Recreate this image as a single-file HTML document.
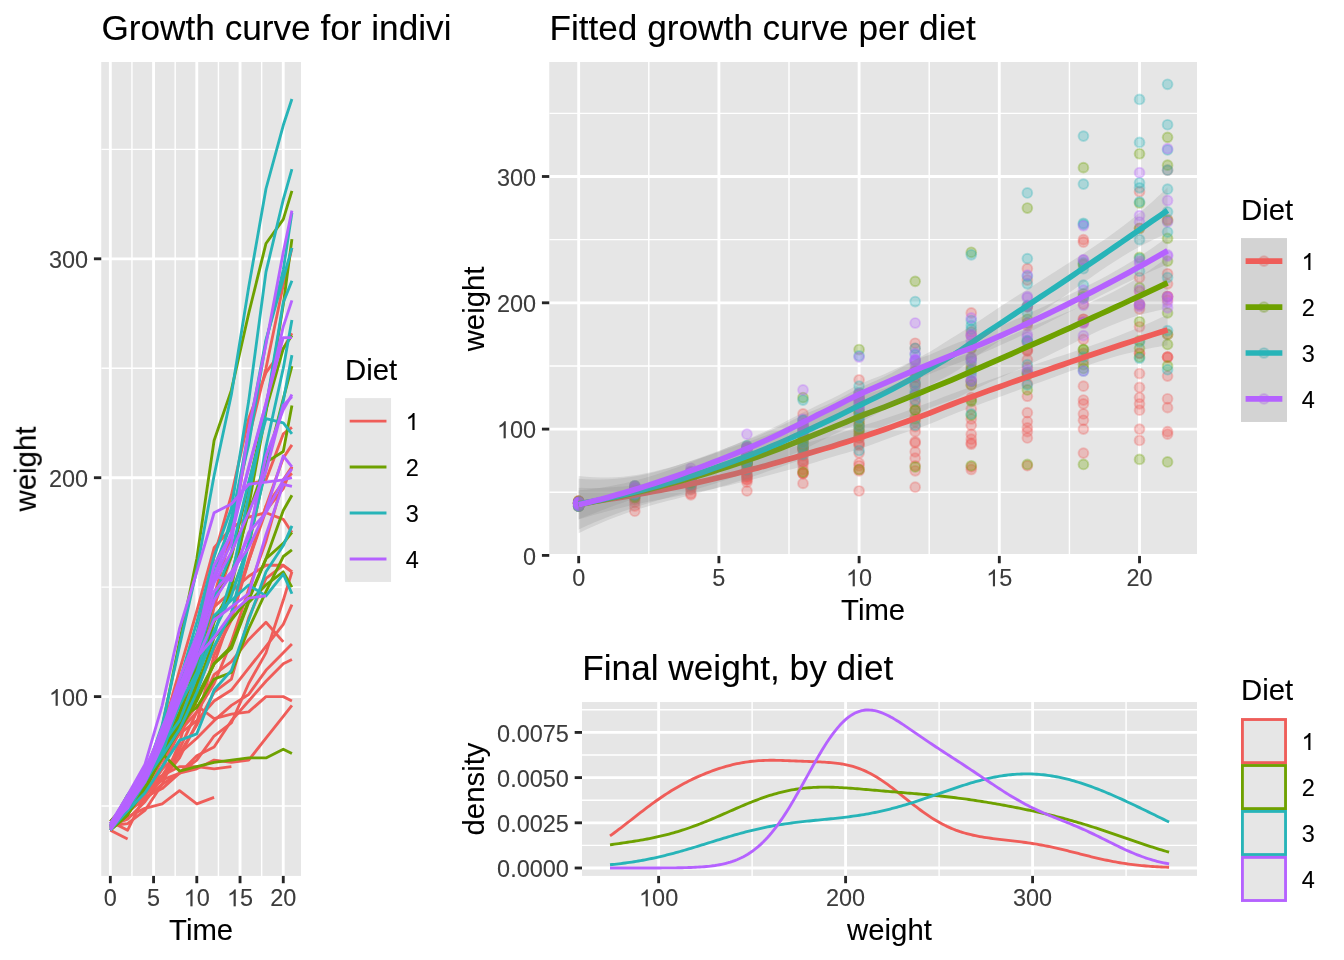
<!DOCTYPE html>
<html><head><meta charset="utf-8"><title>ChickWeight</title>
<style>html,body{margin:0;padding:0;background:#fff}svg{display:block}text{font-family:"Liberation Sans", sans-serif}</style>
</head><body>
<svg width="1344" height="960" viewBox="0 0 1344 960">
<defs><filter id="tx" x="0" y="0" width="1344" height="960" filterUnits="userSpaceOnUse" color-interpolation-filters="sRGB"><feComponentTransfer><feFuncA type="gamma" exponent="0.8"/></feComponentTransfer></filter></defs><g><rect width="1344" height="960" fill="#fff"/>
<clipPath id="c1"><rect x="101.25" y="62" width="199.75" height="813.9"/></clipPath>
<rect x="101.25" y="62" width="199.75" height="813.9" fill="#E6E6E6"/>
<g clip-path="url(#c1)" stroke="#fff" fill="none">
<path d="M101.25 806.07H301" stroke-width="1.42"/>
<path d="M101.25 587.16H301" stroke-width="1.42"/>
<path d="M101.25 368.25H301" stroke-width="1.42"/>
<path d="M101.25 149.34H301" stroke-width="1.42"/>
<path d="M131.95 62V875.9" stroke-width="1.42"/>
<path d="M175.18 62V875.9" stroke-width="1.42"/>
<path d="M218.42 62V875.9" stroke-width="1.42"/>
<path d="M261.66 62V875.9" stroke-width="1.42"/>
<path d="M101.25 696.61H301" stroke-width="2.85"/>
<path d="M101.25 477.71H301" stroke-width="2.85"/>
<path d="M101.25 258.8H301" stroke-width="2.85"/>
<path d="M110.33 62V875.9" stroke-width="2.85"/>
<path d="M153.57 62V875.9" stroke-width="2.85"/>
<path d="M196.8 62V875.9" stroke-width="2.85"/>
<path d="M240.04 62V875.9" stroke-width="2.85"/>
<path d="M283.27 62V875.9" stroke-width="2.85"/>
</g>
<g clip-path="url(#c1)" fill="none" stroke-width="2.85" stroke-linejoin="round">
<polyline points="110.33,823.58 127.62,803.88 144.92,786.37 162.21,775.42 179.51,749.15 196.8,711.94 214.1,683.48 231.39,641.89 248.68,589.35 265.98,541.19 283.27,479.9 291.92,466.76" stroke="#EF5D59"/>
<polyline points="110.33,827.96 127.62,808.26 144.92,788.56 162.21,757.91 179.51,731.64 196.8,690.05 214.1,648.45 231.39,613.43 248.68,560.89 265.98,506.16 283.27,458 291.92,444.87" stroke="#EF5D59"/>
<polyline points="110.33,821.39 127.62,830.15 144.92,795.12 162.21,768.85 179.51,731.64 196.8,698.8 214.1,663.78 231.39,613.43 248.68,558.7 265.98,506.16 283.27,482.08 291.92,473.33" stroke="#EF5D59"/>
<polyline points="110.33,823.58 127.62,808.26 144.92,792.93 162.21,768.85 179.51,753.53 196.8,725.07 214.1,692.24 231.39,679.1 248.68,617.81 265.98,578.4 283.27,565.27 291.92,571.84" stroke="#EF5D59"/>
<polyline points="110.33,825.77 127.62,823.58 144.92,810.45 162.21,784.18 179.51,742.59 196.8,683.48 214.1,606.86 231.39,556.51 248.68,484.27 265.98,479.9 283.27,433.92 291.92,427.36" stroke="#EF5D59"/>
<polyline points="110.33,825.77 127.62,808.26 144.92,786.37 162.21,753.53 179.51,703.18 196.8,644.08 214.1,606.86 231.39,591.54 248.68,576.21 265.98,565.27 283.27,565.27 291.92,571.84" stroke="#EF5D59"/>
<polyline points="110.33,825.77 127.62,808.26 144.92,790.74 162.21,760.1 179.51,720.69 196.8,670.35 214.1,595.92 231.39,534.62 248.68,438.3 265.98,368.25 283.27,285.07 291.92,247.85" stroke="#EF5D59"/>
<polyline points="110.33,823.58 127.62,806.07 144.92,781.99 162.21,760.1 179.51,731.64 196.8,711.94 214.1,674.72 231.39,661.59 248.68,639.7 265.98,622.19 283.27,641.89" stroke="#EF5D59"/>
<polyline points="110.33,823.58 127.62,803.88 144.92,786.37 162.21,766.66 179.51,729.45 196.8,705.37 214.1,718.51 231.39,714.13 248.68,711.94 265.98,696.61 283.27,696.61 291.92,700.99" stroke="#EF5D59"/>
<polyline points="110.33,825.77 127.62,819.2 144.92,801.69 162.21,777.61 179.51,753.53 196.8,738.21 214.1,720.69 231.39,705.37 248.68,694.43 265.98,670.35 283.27,652.83 291.92,644.08" stroke="#EF5D59"/>
<polyline points="110.33,821.39 127.62,803.88 144.92,777.61 162.21,731.64 179.51,670.35 196.8,611.24 214.1,547.76 231.39,528.06 248.68,517.11 265.98,512.73 283.27,519.3 291.92,532.43" stroke="#EF5D59"/>
<polyline points="110.33,825.77 127.62,808.26 144.92,792.93 162.21,779.8 179.51,757.91 196.8,722.88 214.1,655.02 231.39,620 248.68,560.89 265.98,510.54 283.27,488.65 291.92,466.76" stroke="#EF5D59"/>
<polyline points="110.33,825.77 127.62,810.45 144.92,799.5 162.21,784.18 179.51,773.23 196.8,768.85 214.1,760.1 231.39,762.29 248.68,760.1 265.98,738.21 283.27,716.32 291.92,705.37" stroke="#EF5D59"/>
<polyline points="110.33,825.77 127.62,808.26 144.92,779.8 162.21,742.59 179.51,694.43 196.8,635.32 214.1,556.51 231.39,495.22 248.68,418.6 265.98,372.63 283.27,348.55 291.92,333.23" stroke="#EF5D59"/>
<polyline points="110.33,825.77 127.62,808.26 144.92,792.93 162.21,775.42 179.51,766.66 196.8,766.66 214.1,768.85 231.39,766.66" stroke="#EF5D59"/>
<polyline points="110.33,825.77 127.62,817.01 144.92,808.26 162.21,803.88 179.51,790.74 196.8,803.88 214.1,797.31" stroke="#EF5D59"/>
<polyline points="110.33,823.58 127.62,803.88 144.92,781.99 162.21,757.91 179.51,733.83 196.8,720.69 214.1,700.99 231.39,690.05 248.68,668.16 265.98,646.27 283.27,624.37 291.92,604.67" stroke="#EF5D59"/>
<polyline points="110.33,830.15 127.62,838.9" stroke="#EF5D59"/>
<polyline points="110.33,821.39 127.62,810.45 144.92,795.12 162.21,779.8 179.51,773.23 196.8,760.1 214.1,736.02 231.39,722.88 248.68,683.48 265.98,652.83 283.27,600.29 291.92,571.84" stroke="#EF5D59"/>
<polyline points="110.33,825.77 127.62,812.64 144.92,797.31 162.21,788.56 179.51,773.23 196.8,755.72 214.1,746.96 231.39,720.69 248.68,700.99 265.98,681.29 283.27,663.78 291.92,659.4" stroke="#EF5D59"/>
<polyline points="110.33,827.96 127.62,806.07 144.92,779.8 162.21,727.26 179.51,641.89 196.8,558.7 214.1,440.49 231.39,390.14 248.68,313.53 265.98,243.47 283.27,219.39 291.92,190.94" stroke="#6EA100"/>
<polyline points="110.33,825.77 127.62,795.12 144.92,775.42 162.21,746.96 179.51,718.51 196.8,707.56 214.1,679.1 231.39,672.53 248.68,628.75 265.98,591.54 283.27,556.51 291.92,549.95" stroke="#6EA100"/>
<polyline points="110.33,821.39 127.62,801.69 144.92,781.99 162.21,755.72 179.51,718.51 196.8,690.05 214.1,637.51 231.39,620 248.68,598.11 265.98,558.7 283.27,543.38 291.92,532.43" stroke="#6EA100"/>
<polyline points="110.33,823.58 127.62,801.69 144.92,788.56 162.21,753.53 179.51,771.04 196.8,766.66 214.1,762.29 231.39,760.1 248.68,757.91 265.98,757.91 283.27,749.15 291.92,753.53" stroke="#6EA100"/>
<polyline points="110.33,827.96 127.62,808.26 144.92,779.8 162.21,744.77 179.51,692.24 196.8,644.08 214.1,595.92 231.39,556.51 248.68,484.27 265.98,409.84 283.27,348.55 291.92,335.42" stroke="#6EA100"/>
<polyline points="110.33,823.58 127.62,810.45 144.92,790.74 162.21,753.53 179.51,711.94 196.8,665.97 214.1,617.81 231.39,593.73 248.68,545.57 265.98,466.76 283.27,398.9 291.92,366.06" stroke="#6EA100"/>
<polyline points="110.33,830.15 127.62,814.82 144.92,788.56 162.21,755.72 179.51,725.07 196.8,696.61 214.1,663.78 231.39,646.27 248.68,600.29 265.98,558.7 283.27,510.54 291.92,495.22" stroke="#6EA100"/>
<polyline points="110.33,830.15 127.62,814.82 144.92,788.56 162.21,755.72 179.51,714.13 196.8,665.97 214.1,598.11 231.39,574.03 248.68,512.73 265.98,462.38 283.27,451.44 291.92,405.47" stroke="#6EA100"/>
<polyline points="110.33,830.15 127.62,810.45 144.92,786.37 162.21,753.53 179.51,725.07 196.8,683.48 214.1,622.19 231.39,587.16 248.68,506.16 265.98,412.03 283.27,304.77 291.92,239.1" stroke="#6EA100"/>
<polyline points="110.33,823.58 127.62,810.45 144.92,786.37 162.21,757.91 179.51,729.45 196.8,700.99 214.1,663.78 231.39,648.45 248.68,602.48 265.98,584.97 283.27,571.84 291.92,587.16" stroke="#6EA100"/>
<polyline points="110.33,823.58 127.62,799.5 144.92,779.8 162.21,755.72 179.51,729.45 196.8,692.24 214.1,646.27 231.39,613.43 248.68,543.38 265.98,468.95 283.27,401.09 291.92,355.12" stroke="#27B4B8"/>
<polyline points="110.33,825.77 127.62,808.26 144.92,773.23 162.21,736.02 179.51,681.29 196.8,633.13 214.1,567.46 231.39,523.68 248.68,431.74 265.98,339.79 283.27,278.5 291.92,247.85" stroke="#27B4B8"/>
<polyline points="110.33,830.15 127.62,806.07 144.92,777.61 162.21,746.96 179.51,705.37 196.8,672.53 214.1,615.62 231.39,600.29 248.68,584.97 265.98,595.92 283.27,574.03 291.92,593.73" stroke="#27B4B8"/>
<polyline points="110.33,825.77 127.62,808.26 144.92,777.61 162.21,729.45 179.51,681.29 196.8,622.19 214.1,556.51 231.39,508.35 248.68,401.09 265.98,271.93 283.27,199.69 291.92,169.05" stroke="#27B4B8"/>
<polyline points="110.33,825.77 127.62,799.5 144.92,775.42 162.21,725.07 179.51,646.27 196.8,569.65 214.1,475.52 231.39,394.52 248.68,287.26 265.98,188.75 283.27,125.26 291.92,99" stroke="#27B4B8"/>
<polyline points="110.33,830.15 127.62,810.45 144.92,781.99 162.21,749.15 179.51,700.99 196.8,661.59 214.1,598.11 231.39,552.14 248.68,482.08 265.98,418.6 283.27,422.98 291.92,433.92" stroke="#27B4B8"/>
<polyline points="110.33,825.77 127.62,810.45 144.92,792.93 162.21,766.66 179.51,740.4 196.8,733.83 214.1,690.05 231.39,670.35 248.68,620 265.98,571.84 283.27,545.57 291.92,525.87" stroke="#27B4B8"/>
<polyline points="110.33,825.77 127.62,808.26 144.92,781.99 162.21,753.53 179.51,700.99 196.8,676.91 214.1,635.32 231.39,578.4 248.68,495.22 265.98,407.66 283.27,302.58 291.92,280.69" stroke="#27B4B8"/>
<polyline points="110.33,823.58 127.62,806.07 144.92,781.99 162.21,744.77 179.51,720.69 196.8,676.91 214.1,630.94 231.39,595.92 248.68,543.38 265.98,447.06 283.27,368.25 291.92,320.09" stroke="#27B4B8"/>
<polyline points="110.33,825.77 127.62,795.12 144.92,771.04 162.21,742.59 179.51,694.43 196.8,652.83 214.1,578.4 231.39,517.11 248.68,444.87 265.98,341.98 283.27,269.74 291.92,212.83" stroke="#27B4B8"/>
<polyline points="110.33,823.58 127.62,803.88 144.92,771.04 162.21,729.45 179.51,690.05 196.8,644.08 214.1,576.21 231.39,580.59 248.68,532.43 265.98,512.73 283.27,479.9 291.92,468.95" stroke="#B562FF"/>
<polyline points="110.33,823.58 127.62,808.26 144.92,777.61 162.21,731.64 179.51,690.05 196.8,639.7 214.1,565.27 231.39,534.62 248.68,468.95 265.98,403.28 283.27,326.66 291.92,300.39" stroke="#B562FF"/>
<polyline points="110.33,823.58 127.62,795.12 144.92,764.48 162.21,705.37 179.51,628.75 196.8,571.84 214.1,512.73 231.39,503.98 248.68,484.27 265.98,482.08 283.27,479.9 291.92,477.71" stroke="#B562FF"/>
<polyline points="110.33,823.58 127.62,803.88 144.92,773.23 162.21,727.26 179.51,690.05 196.8,657.21 214.1,637.51 231.39,613.43 248.68,598.11 265.98,595.92" stroke="#B562FF"/>
<polyline points="110.33,825.77 127.62,806.07 144.92,781.99 162.21,744.77 179.51,700.99 196.8,659.4 214.1,620 231.39,606.86 248.68,593.73 265.98,534.62 283.27,484.27 291.92,486.46" stroke="#B562FF"/>
<polyline points="110.33,827.96 127.62,801.69 144.92,779.8 162.21,736.02 179.51,694.43 196.8,652.83 214.1,600.29 231.39,574.03 248.68,536.81 265.98,455.82 283.27,409.84 291.92,394.52" stroke="#B562FF"/>
<polyline points="110.33,825.77 127.62,799.5 144.92,771.04 162.21,742.59 179.51,696.61 196.8,646.27 214.1,591.54 231.39,571.84 248.68,547.76 265.98,510.54 283.27,455.82 291.92,466.76" stroke="#B562FF"/>
<polyline points="110.33,830.15 127.62,806.07 144.92,779.8 162.21,740.4 179.51,687.86 196.8,641.89 214.1,578.4 231.39,543.38 248.68,429.55 265.98,344.17 283.27,252.23 291.92,210.64" stroke="#B562FF"/>
<polyline points="110.33,827.96 127.62,799.5 144.92,775.42 162.21,729.45 179.51,679.1 196.8,635.32 214.1,582.78 231.39,552.14 248.68,512.73 265.98,471.14 283.27,405.47 291.92,396.71" stroke="#B562FF"/>
<polyline points="110.33,825.77 127.62,797.31 144.92,768.85 162.21,731.64 179.51,685.67 196.8,648.45 214.1,576.21 231.39,532.43 248.68,466.76 265.98,403.28 283.27,337.61 291.92,337.61" stroke="#B562FF"/>
</g>
<g stroke="#262626" stroke-width="2.85">
<path d="M110.33 875.9v7.33"/>
<path d="M153.57 875.9v7.33"/>
<path d="M196.8 875.9v7.33"/>
<path d="M240.04 875.9v7.33"/>
<path d="M283.27 875.9v7.33"/>
<path d="M101.25 696.61h-7.33"/>
<path d="M101.25 477.71h-7.33"/>
<path d="M101.25 258.8h-7.33"/>
</g>
<clipPath id="t1"><rect x="0" y="0" width="449.6" height="60"/></clipPath>
<rect x="345.1" y="398.1" width="45.96" height="183.84" fill="#E6E6E6"/>
<path d="M349.7 421.08H386.46" stroke="#EF5D59" stroke-width="2.85"/>
<path d="M349.7 467.04H386.46" stroke="#6EA100" stroke-width="2.85"/>
<path d="M349.7 513H386.46" stroke="#27B4B8" stroke-width="2.85"/>
<path d="M349.7 558.96H386.46" stroke="#B562FF" stroke-width="2.85"/>
<clipPath id="c2"><rect x="549.25" y="62" width="647.75" height="493.94"/></clipPath>
<rect x="549.25" y="62" width="647.75" height="493.94" fill="#E6E6E6"/>
<g clip-path="url(#c2)" stroke="#fff" fill="none">
<path d="M549.25 492.25H1197" stroke-width="1.42"/>
<path d="M549.25 365.95H1197" stroke-width="1.42"/>
<path d="M549.25 239.65H1197" stroke-width="1.42"/>
<path d="M549.25 113.35H1197" stroke-width="1.42"/>
<path d="M648.8 62V555.94" stroke-width="1.42"/>
<path d="M789 62V555.94" stroke-width="1.42"/>
<path d="M929.21 62V555.94" stroke-width="1.42"/>
<path d="M1069.41 62V555.94" stroke-width="1.42"/>
<path d="M549.25 555.4H1197" stroke-width="2.85"/>
<path d="M549.25 429.1H1197" stroke-width="2.85"/>
<path d="M549.25 302.8H1197" stroke-width="2.85"/>
<path d="M549.25 176.5H1197" stroke-width="2.85"/>
<path d="M578.69 62V555.94" stroke-width="2.85"/>
<path d="M718.9 62V555.94" stroke-width="2.85"/>
<path d="M859.1 62V555.94" stroke-width="2.85"/>
<path d="M999.31 62V555.94" stroke-width="2.85"/>
<path d="M1139.52 62V555.94" stroke-width="2.85"/>
</g>
<g clip-path="url(#c2)">
<g fill="#EF5D59" stroke="#EF5D59" fill-opacity="0.3" stroke-opacity="0.3" stroke-width="1.89">
<circle cx="578.69" cy="502.35" r="4.9"/>
<circle cx="634.78" cy="490.99" r="4.9"/>
<circle cx="690.86" cy="480.88" r="4.9"/>
<circle cx="746.94" cy="474.57" r="4.9"/>
<circle cx="803.02" cy="459.41" r="4.9"/>
<circle cx="859.1" cy="437.94" r="4.9"/>
<circle cx="915.19" cy="421.52" r="4.9"/>
<circle cx="971.27" cy="397.52" r="4.9"/>
<circle cx="1027.35" cy="367.21" r="4.9"/>
<circle cx="1083.43" cy="339.43" r="4.9"/>
<circle cx="1139.52" cy="304.06" r="4.9"/>
<circle cx="1167.56" cy="296.49" r="4.9"/>
</g>
<g fill="#EF5D59" stroke="#EF5D59" fill-opacity="0.3" stroke-opacity="0.3" stroke-width="1.89">
<circle cx="578.69" cy="504.88" r="4.9"/>
<circle cx="634.78" cy="493.51" r="4.9"/>
<circle cx="690.86" cy="482.15" r="4.9"/>
<circle cx="746.94" cy="464.46" r="4.9"/>
<circle cx="803.02" cy="449.31" r="4.9"/>
<circle cx="859.1" cy="425.31" r="4.9"/>
<circle cx="915.19" cy="401.31" r="4.9"/>
<circle cx="971.27" cy="381.11" r="4.9"/>
<circle cx="1027.35" cy="350.79" r="4.9"/>
<circle cx="1083.43" cy="319.22" r="4.9"/>
<circle cx="1139.52" cy="291.43" r="4.9"/>
<circle cx="1167.56" cy="283.86" r="4.9"/>
</g>
<g fill="#EF5D59" stroke="#EF5D59" fill-opacity="0.3" stroke-opacity="0.3" stroke-width="1.89">
<circle cx="578.69" cy="501.09" r="4.9"/>
<circle cx="634.78" cy="506.14" r="4.9"/>
<circle cx="690.86" cy="485.94" r="4.9"/>
<circle cx="746.94" cy="470.78" r="4.9"/>
<circle cx="803.02" cy="449.31" r="4.9"/>
<circle cx="859.1" cy="430.36" r="4.9"/>
<circle cx="915.19" cy="410.15" r="4.9"/>
<circle cx="971.27" cy="381.11" r="4.9"/>
<circle cx="1027.35" cy="349.53" r="4.9"/>
<circle cx="1083.43" cy="319.22" r="4.9"/>
<circle cx="1139.52" cy="305.33" r="4.9"/>
<circle cx="1167.56" cy="300.27" r="4.9"/>
</g>
<g fill="#EF5D59" stroke="#EF5D59" fill-opacity="0.3" stroke-opacity="0.3" stroke-width="1.89">
<circle cx="578.69" cy="502.35" r="4.9"/>
<circle cx="634.78" cy="493.51" r="4.9"/>
<circle cx="690.86" cy="484.67" r="4.9"/>
<circle cx="746.94" cy="470.78" r="4.9"/>
<circle cx="803.02" cy="461.94" r="4.9"/>
<circle cx="859.1" cy="445.52" r="4.9"/>
<circle cx="915.19" cy="426.57" r="4.9"/>
<circle cx="971.27" cy="419" r="4.9"/>
<circle cx="1027.35" cy="383.63" r="4.9"/>
<circle cx="1083.43" cy="360.9" r="4.9"/>
<circle cx="1139.52" cy="353.32" r="4.9"/>
<circle cx="1167.56" cy="357.11" r="4.9"/>
</g>
<g fill="#EF5D59" stroke="#EF5D59" fill-opacity="0.3" stroke-opacity="0.3" stroke-width="1.89">
<circle cx="578.69" cy="503.62" r="4.9"/>
<circle cx="634.78" cy="502.35" r="4.9"/>
<circle cx="690.86" cy="494.78" r="4.9"/>
<circle cx="746.94" cy="479.62" r="4.9"/>
<circle cx="803.02" cy="455.62" r="4.9"/>
<circle cx="859.1" cy="421.52" r="4.9"/>
<circle cx="915.19" cy="377.32" r="4.9"/>
<circle cx="971.27" cy="348.27" r="4.9"/>
<circle cx="1027.35" cy="306.59" r="4.9"/>
<circle cx="1083.43" cy="304.06" r="4.9"/>
<circle cx="1139.52" cy="277.54" r="4.9"/>
<circle cx="1167.56" cy="273.75" r="4.9"/>
</g>
<g fill="#EF5D59" stroke="#EF5D59" fill-opacity="0.3" stroke-opacity="0.3" stroke-width="1.89">
<circle cx="578.69" cy="503.62" r="4.9"/>
<circle cx="634.78" cy="493.51" r="4.9"/>
<circle cx="690.86" cy="480.88" r="4.9"/>
<circle cx="746.94" cy="461.94" r="4.9"/>
<circle cx="803.02" cy="432.89" r="4.9"/>
<circle cx="859.1" cy="398.79" r="4.9"/>
<circle cx="915.19" cy="377.32" r="4.9"/>
<circle cx="971.27" cy="368.48" r="4.9"/>
<circle cx="1027.35" cy="359.63" r="4.9"/>
<circle cx="1083.43" cy="353.32" r="4.9"/>
<circle cx="1139.52" cy="353.32" r="4.9"/>
<circle cx="1167.56" cy="357.11" r="4.9"/>
</g>
<g fill="#EF5D59" stroke="#EF5D59" fill-opacity="0.3" stroke-opacity="0.3" stroke-width="1.89">
<circle cx="578.69" cy="503.62" r="4.9"/>
<circle cx="634.78" cy="493.51" r="4.9"/>
<circle cx="690.86" cy="483.41" r="4.9"/>
<circle cx="746.94" cy="465.73" r="4.9"/>
<circle cx="803.02" cy="442.99" r="4.9"/>
<circle cx="859.1" cy="413.94" r="4.9"/>
<circle cx="915.19" cy="371" r="4.9"/>
<circle cx="971.27" cy="335.64" r="4.9"/>
<circle cx="1027.35" cy="280.07" r="4.9"/>
<circle cx="1083.43" cy="239.65" r="4.9"/>
<circle cx="1139.52" cy="191.66" r="4.9"/>
<circle cx="1167.56" cy="170.19" r="4.9"/>
</g>
<g fill="#EF5D59" stroke="#EF5D59" fill-opacity="0.3" stroke-opacity="0.3" stroke-width="1.89">
<circle cx="578.69" cy="502.35" r="4.9"/>
<circle cx="634.78" cy="492.25" r="4.9"/>
<circle cx="690.86" cy="478.36" r="4.9"/>
<circle cx="746.94" cy="465.73" r="4.9"/>
<circle cx="803.02" cy="449.31" r="4.9"/>
<circle cx="859.1" cy="437.94" r="4.9"/>
<circle cx="915.19" cy="416.47" r="4.9"/>
<circle cx="971.27" cy="408.89" r="4.9"/>
<circle cx="1027.35" cy="396.26" r="4.9"/>
<circle cx="1083.43" cy="386.16" r="4.9"/>
<circle cx="1139.52" cy="397.52" r="4.9"/>
</g>
<g fill="#EF5D59" stroke="#EF5D59" fill-opacity="0.3" stroke-opacity="0.3" stroke-width="1.89">
<circle cx="578.69" cy="502.35" r="4.9"/>
<circle cx="634.78" cy="490.99" r="4.9"/>
<circle cx="690.86" cy="480.88" r="4.9"/>
<circle cx="746.94" cy="469.52" r="4.9"/>
<circle cx="803.02" cy="448.04" r="4.9"/>
<circle cx="859.1" cy="434.15" r="4.9"/>
<circle cx="915.19" cy="441.73" r="4.9"/>
<circle cx="971.27" cy="439.2" r="4.9"/>
<circle cx="1027.35" cy="437.94" r="4.9"/>
<circle cx="1083.43" cy="429.1" r="4.9"/>
<circle cx="1139.52" cy="429.1" r="4.9"/>
<circle cx="1167.56" cy="431.63" r="4.9"/>
</g>
<g fill="#EF5D59" stroke="#EF5D59" fill-opacity="0.3" stroke-opacity="0.3" stroke-width="1.89">
<circle cx="578.69" cy="503.62" r="4.9"/>
<circle cx="634.78" cy="499.83" r="4.9"/>
<circle cx="690.86" cy="489.72" r="4.9"/>
<circle cx="746.94" cy="475.83" r="4.9"/>
<circle cx="803.02" cy="461.94" r="4.9"/>
<circle cx="859.1" cy="453.1" r="4.9"/>
<circle cx="915.19" cy="442.99" r="4.9"/>
<circle cx="971.27" cy="434.15" r="4.9"/>
<circle cx="1027.35" cy="427.84" r="4.9"/>
<circle cx="1083.43" cy="413.94" r="4.9"/>
<circle cx="1139.52" cy="403.84" r="4.9"/>
<circle cx="1167.56" cy="398.79" r="4.9"/>
</g>
<g fill="#EF5D59" stroke="#EF5D59" fill-opacity="0.3" stroke-opacity="0.3" stroke-width="1.89">
<circle cx="578.69" cy="501.09" r="4.9"/>
<circle cx="634.78" cy="490.99" r="4.9"/>
<circle cx="690.86" cy="475.83" r="4.9"/>
<circle cx="746.94" cy="449.31" r="4.9"/>
<circle cx="803.02" cy="413.94" r="4.9"/>
<circle cx="859.1" cy="379.84" r="4.9"/>
<circle cx="915.19" cy="343.22" r="4.9"/>
<circle cx="971.27" cy="331.85" r="4.9"/>
<circle cx="1027.35" cy="325.53" r="4.9"/>
<circle cx="1083.43" cy="323.01" r="4.9"/>
<circle cx="1139.52" cy="326.8" r="4.9"/>
<circle cx="1167.56" cy="334.38" r="4.9"/>
</g>
<g fill="#EF5D59" stroke="#EF5D59" fill-opacity="0.3" stroke-opacity="0.3" stroke-width="1.89">
<circle cx="578.69" cy="503.62" r="4.9"/>
<circle cx="634.78" cy="493.51" r="4.9"/>
<circle cx="690.86" cy="484.67" r="4.9"/>
<circle cx="746.94" cy="477.09" r="4.9"/>
<circle cx="803.02" cy="464.46" r="4.9"/>
<circle cx="859.1" cy="444.26" r="4.9"/>
<circle cx="915.19" cy="405.1" r="4.9"/>
<circle cx="971.27" cy="384.89" r="4.9"/>
<circle cx="1027.35" cy="350.79" r="4.9"/>
<circle cx="1083.43" cy="321.75" r="4.9"/>
<circle cx="1139.52" cy="309.12" r="4.9"/>
<circle cx="1167.56" cy="296.49" r="4.9"/>
</g>
<g fill="#EF5D59" stroke="#EF5D59" fill-opacity="0.3" stroke-opacity="0.3" stroke-width="1.89">
<circle cx="578.69" cy="503.62" r="4.9"/>
<circle cx="634.78" cy="494.78" r="4.9"/>
<circle cx="690.86" cy="488.46" r="4.9"/>
<circle cx="746.94" cy="479.62" r="4.9"/>
<circle cx="803.02" cy="473.3" r="4.9"/>
<circle cx="859.1" cy="470.78" r="4.9"/>
<circle cx="915.19" cy="465.73" r="4.9"/>
<circle cx="971.27" cy="466.99" r="4.9"/>
<circle cx="1027.35" cy="465.73" r="4.9"/>
<circle cx="1083.43" cy="453.1" r="4.9"/>
<circle cx="1139.52" cy="440.47" r="4.9"/>
<circle cx="1167.56" cy="434.15" r="4.9"/>
</g>
<g fill="#EF5D59" stroke="#EF5D59" fill-opacity="0.3" stroke-opacity="0.3" stroke-width="1.89">
<circle cx="578.69" cy="503.62" r="4.9"/>
<circle cx="634.78" cy="493.51" r="4.9"/>
<circle cx="690.86" cy="477.09" r="4.9"/>
<circle cx="746.94" cy="455.62" r="4.9"/>
<circle cx="803.02" cy="427.84" r="4.9"/>
<circle cx="859.1" cy="393.74" r="4.9"/>
<circle cx="915.19" cy="348.27" r="4.9"/>
<circle cx="971.27" cy="312.9" r="4.9"/>
<circle cx="1027.35" cy="268.7" r="4.9"/>
<circle cx="1083.43" cy="242.18" r="4.9"/>
<circle cx="1139.52" cy="228.28" r="4.9"/>
<circle cx="1167.56" cy="219.44" r="4.9"/>
</g>
<g fill="#EF5D59" stroke="#EF5D59" fill-opacity="0.3" stroke-opacity="0.3" stroke-width="1.89">
<circle cx="578.69" cy="503.62" r="4.9"/>
<circle cx="634.78" cy="493.51" r="4.9"/>
<circle cx="690.86" cy="484.67" r="4.9"/>
<circle cx="746.94" cy="474.57" r="4.9"/>
<circle cx="803.02" cy="469.52" r="4.9"/>
<circle cx="859.1" cy="469.52" r="4.9"/>
<circle cx="915.19" cy="470.78" r="4.9"/>
<circle cx="971.27" cy="469.52" r="4.9"/>
</g>
<g fill="#EF5D59" stroke="#EF5D59" fill-opacity="0.3" stroke-opacity="0.3" stroke-width="1.89">
<circle cx="578.69" cy="503.62" r="4.9"/>
<circle cx="634.78" cy="498.56" r="4.9"/>
<circle cx="690.86" cy="493.51" r="4.9"/>
<circle cx="746.94" cy="490.99" r="4.9"/>
<circle cx="803.02" cy="483.41" r="4.9"/>
<circle cx="859.1" cy="490.99" r="4.9"/>
<circle cx="915.19" cy="487.2" r="4.9"/>
</g>
<g fill="#EF5D59" stroke="#EF5D59" fill-opacity="0.3" stroke-opacity="0.3" stroke-width="1.89">
<circle cx="578.69" cy="502.35" r="4.9"/>
<circle cx="634.78" cy="490.99" r="4.9"/>
<circle cx="690.86" cy="478.36" r="4.9"/>
<circle cx="746.94" cy="464.46" r="4.9"/>
<circle cx="803.02" cy="450.57" r="4.9"/>
<circle cx="859.1" cy="442.99" r="4.9"/>
<circle cx="915.19" cy="431.63" r="4.9"/>
<circle cx="971.27" cy="425.31" r="4.9"/>
<circle cx="1027.35" cy="412.68" r="4.9"/>
<circle cx="1083.43" cy="400.05" r="4.9"/>
<circle cx="1139.52" cy="387.42" r="4.9"/>
<circle cx="1167.56" cy="376.05" r="4.9"/>
</g>
<g fill="#EF5D59" stroke="#EF5D59" fill-opacity="0.3" stroke-opacity="0.3" stroke-width="1.89">
<circle cx="578.69" cy="506.14" r="4.9"/>
<circle cx="634.78" cy="511.19" r="4.9"/>
</g>
<g fill="#EF5D59" stroke="#EF5D59" fill-opacity="0.3" stroke-opacity="0.3" stroke-width="1.89">
<circle cx="578.69" cy="501.09" r="4.9"/>
<circle cx="634.78" cy="494.78" r="4.9"/>
<circle cx="690.86" cy="485.94" r="4.9"/>
<circle cx="746.94" cy="477.09" r="4.9"/>
<circle cx="803.02" cy="473.3" r="4.9"/>
<circle cx="859.1" cy="465.73" r="4.9"/>
<circle cx="915.19" cy="451.83" r="4.9"/>
<circle cx="971.27" cy="444.26" r="4.9"/>
<circle cx="1027.35" cy="421.52" r="4.9"/>
<circle cx="1083.43" cy="403.84" r="4.9"/>
<circle cx="1139.52" cy="373.53" r="4.9"/>
<circle cx="1167.56" cy="357.11" r="4.9"/>
</g>
<g fill="#EF5D59" stroke="#EF5D59" fill-opacity="0.3" stroke-opacity="0.3" stroke-width="1.89">
<circle cx="578.69" cy="503.62" r="4.9"/>
<circle cx="634.78" cy="496.04" r="4.9"/>
<circle cx="690.86" cy="487.2" r="4.9"/>
<circle cx="746.94" cy="482.15" r="4.9"/>
<circle cx="803.02" cy="473.3" r="4.9"/>
<circle cx="859.1" cy="463.2" r="4.9"/>
<circle cx="915.19" cy="458.15" r="4.9"/>
<circle cx="971.27" cy="442.99" r="4.9"/>
<circle cx="1027.35" cy="431.63" r="4.9"/>
<circle cx="1083.43" cy="420.26" r="4.9"/>
<circle cx="1139.52" cy="410.15" r="4.9"/>
<circle cx="1167.56" cy="407.63" r="4.9"/>
</g>
<g fill="#6EA100" stroke="#6EA100" fill-opacity="0.3" stroke-opacity="0.3" stroke-width="1.89">
<circle cx="578.69" cy="504.88" r="4.9"/>
<circle cx="634.78" cy="492.25" r="4.9"/>
<circle cx="690.86" cy="477.09" r="4.9"/>
<circle cx="746.94" cy="446.78" r="4.9"/>
<circle cx="803.02" cy="397.52" r="4.9"/>
<circle cx="859.1" cy="349.53" r="4.9"/>
<circle cx="915.19" cy="281.33" r="4.9"/>
<circle cx="971.27" cy="252.28" r="4.9"/>
<circle cx="1027.35" cy="208.07" r="4.9"/>
<circle cx="1083.43" cy="167.66" r="4.9"/>
<circle cx="1139.52" cy="153.77" r="4.9"/>
<circle cx="1167.56" cy="137.35" r="4.9"/>
</g>
<g fill="#6EA100" stroke="#6EA100" fill-opacity="0.3" stroke-opacity="0.3" stroke-width="1.89">
<circle cx="578.69" cy="503.62" r="4.9"/>
<circle cx="634.78" cy="485.94" r="4.9"/>
<circle cx="690.86" cy="474.57" r="4.9"/>
<circle cx="746.94" cy="458.15" r="4.9"/>
<circle cx="803.02" cy="441.73" r="4.9"/>
<circle cx="859.1" cy="435.41" r="4.9"/>
<circle cx="915.19" cy="419" r="4.9"/>
<circle cx="971.27" cy="415.21" r="4.9"/>
<circle cx="1027.35" cy="389.95" r="4.9"/>
<circle cx="1083.43" cy="368.48" r="4.9"/>
<circle cx="1139.52" cy="348.27" r="4.9"/>
<circle cx="1167.56" cy="344.48" r="4.9"/>
</g>
<g fill="#6EA100" stroke="#6EA100" fill-opacity="0.3" stroke-opacity="0.3" stroke-width="1.89">
<circle cx="578.69" cy="501.09" r="4.9"/>
<circle cx="634.78" cy="489.72" r="4.9"/>
<circle cx="690.86" cy="478.36" r="4.9"/>
<circle cx="746.94" cy="463.2" r="4.9"/>
<circle cx="803.02" cy="441.73" r="4.9"/>
<circle cx="859.1" cy="425.31" r="4.9"/>
<circle cx="915.19" cy="395" r="4.9"/>
<circle cx="971.27" cy="384.89" r="4.9"/>
<circle cx="1027.35" cy="372.26" r="4.9"/>
<circle cx="1083.43" cy="349.53" r="4.9"/>
<circle cx="1139.52" cy="340.69" r="4.9"/>
<circle cx="1167.56" cy="334.38" r="4.9"/>
</g>
<g fill="#6EA100" stroke="#6EA100" fill-opacity="0.3" stroke-opacity="0.3" stroke-width="1.89">
<circle cx="578.69" cy="502.35" r="4.9"/>
<circle cx="634.78" cy="489.72" r="4.9"/>
<circle cx="690.86" cy="482.15" r="4.9"/>
<circle cx="746.94" cy="461.94" r="4.9"/>
<circle cx="803.02" cy="472.04" r="4.9"/>
<circle cx="859.1" cy="469.52" r="4.9"/>
<circle cx="915.19" cy="466.99" r="4.9"/>
<circle cx="971.27" cy="465.73" r="4.9"/>
<circle cx="1027.35" cy="464.46" r="4.9"/>
<circle cx="1083.43" cy="464.46" r="4.9"/>
<circle cx="1139.52" cy="459.41" r="4.9"/>
<circle cx="1167.56" cy="461.94" r="4.9"/>
</g>
<g fill="#6EA100" stroke="#6EA100" fill-opacity="0.3" stroke-opacity="0.3" stroke-width="1.89">
<circle cx="578.69" cy="504.88" r="4.9"/>
<circle cx="634.78" cy="493.51" r="4.9"/>
<circle cx="690.86" cy="477.09" r="4.9"/>
<circle cx="746.94" cy="456.89" r="4.9"/>
<circle cx="803.02" cy="426.57" r="4.9"/>
<circle cx="859.1" cy="398.79" r="4.9"/>
<circle cx="915.19" cy="371" r="4.9"/>
<circle cx="971.27" cy="348.27" r="4.9"/>
<circle cx="1027.35" cy="306.59" r="4.9"/>
<circle cx="1083.43" cy="263.65" r="4.9"/>
<circle cx="1139.52" cy="228.28" r="4.9"/>
<circle cx="1167.56" cy="220.7" r="4.9"/>
</g>
<g fill="#6EA100" stroke="#6EA100" fill-opacity="0.3" stroke-opacity="0.3" stroke-width="1.89">
<circle cx="578.69" cy="502.35" r="4.9"/>
<circle cx="634.78" cy="494.78" r="4.9"/>
<circle cx="690.86" cy="483.41" r="4.9"/>
<circle cx="746.94" cy="461.94" r="4.9"/>
<circle cx="803.02" cy="437.94" r="4.9"/>
<circle cx="859.1" cy="411.42" r="4.9"/>
<circle cx="915.19" cy="383.63" r="4.9"/>
<circle cx="971.27" cy="369.74" r="4.9"/>
<circle cx="1027.35" cy="341.95" r="4.9"/>
<circle cx="1083.43" cy="296.49" r="4.9"/>
<circle cx="1139.52" cy="257.33" r="4.9"/>
<circle cx="1167.56" cy="238.39" r="4.9"/>
</g>
<g fill="#6EA100" stroke="#6EA100" fill-opacity="0.3" stroke-opacity="0.3" stroke-width="1.89">
<circle cx="578.69" cy="506.14" r="4.9"/>
<circle cx="634.78" cy="497.3" r="4.9"/>
<circle cx="690.86" cy="482.15" r="4.9"/>
<circle cx="746.94" cy="463.2" r="4.9"/>
<circle cx="803.02" cy="445.52" r="4.9"/>
<circle cx="859.1" cy="429.1" r="4.9"/>
<circle cx="915.19" cy="410.15" r="4.9"/>
<circle cx="971.27" cy="400.05" r="4.9"/>
<circle cx="1027.35" cy="373.53" r="4.9"/>
<circle cx="1083.43" cy="349.53" r="4.9"/>
<circle cx="1139.52" cy="321.75" r="4.9"/>
<circle cx="1167.56" cy="312.9" r="4.9"/>
</g>
<g fill="#6EA100" stroke="#6EA100" fill-opacity="0.3" stroke-opacity="0.3" stroke-width="1.89">
<circle cx="578.69" cy="506.14" r="4.9"/>
<circle cx="634.78" cy="497.3" r="4.9"/>
<circle cx="690.86" cy="482.15" r="4.9"/>
<circle cx="746.94" cy="463.2" r="4.9"/>
<circle cx="803.02" cy="439.2" r="4.9"/>
<circle cx="859.1" cy="411.42" r="4.9"/>
<circle cx="915.19" cy="372.26" r="4.9"/>
<circle cx="971.27" cy="358.37" r="4.9"/>
<circle cx="1027.35" cy="323.01" r="4.9"/>
<circle cx="1083.43" cy="293.96" r="4.9"/>
<circle cx="1139.52" cy="287.64" r="4.9"/>
<circle cx="1167.56" cy="261.12" r="4.9"/>
</g>
<g fill="#6EA100" stroke="#6EA100" fill-opacity="0.3" stroke-opacity="0.3" stroke-width="1.89">
<circle cx="578.69" cy="506.14" r="4.9"/>
<circle cx="634.78" cy="494.78" r="4.9"/>
<circle cx="690.86" cy="480.88" r="4.9"/>
<circle cx="746.94" cy="461.94" r="4.9"/>
<circle cx="803.02" cy="445.52" r="4.9"/>
<circle cx="859.1" cy="421.52" r="4.9"/>
<circle cx="915.19" cy="386.16" r="4.9"/>
<circle cx="971.27" cy="365.95" r="4.9"/>
<circle cx="1027.35" cy="319.22" r="4.9"/>
<circle cx="1083.43" cy="264.91" r="4.9"/>
<circle cx="1139.52" cy="203.02" r="4.9"/>
<circle cx="1167.56" cy="165.13" r="4.9"/>
</g>
<g fill="#6EA100" stroke="#6EA100" fill-opacity="0.3" stroke-opacity="0.3" stroke-width="1.89">
<circle cx="578.69" cy="502.35" r="4.9"/>
<circle cx="634.78" cy="494.78" r="4.9"/>
<circle cx="690.86" cy="480.88" r="4.9"/>
<circle cx="746.94" cy="464.46" r="4.9"/>
<circle cx="803.02" cy="448.04" r="4.9"/>
<circle cx="859.1" cy="431.63" r="4.9"/>
<circle cx="915.19" cy="410.15" r="4.9"/>
<circle cx="971.27" cy="401.31" r="4.9"/>
<circle cx="1027.35" cy="374.79" r="4.9"/>
<circle cx="1083.43" cy="364.69" r="4.9"/>
<circle cx="1139.52" cy="357.11" r="4.9"/>
<circle cx="1167.56" cy="365.95" r="4.9"/>
</g>
<g fill="#27B4B8" stroke="#27B4B8" fill-opacity="0.3" stroke-opacity="0.3" stroke-width="1.89">
<circle cx="578.69" cy="502.35" r="4.9"/>
<circle cx="634.78" cy="488.46" r="4.9"/>
<circle cx="690.86" cy="477.09" r="4.9"/>
<circle cx="746.94" cy="463.2" r="4.9"/>
<circle cx="803.02" cy="448.04" r="4.9"/>
<circle cx="859.1" cy="426.57" r="4.9"/>
<circle cx="915.19" cy="400.05" r="4.9"/>
<circle cx="971.27" cy="381.11" r="4.9"/>
<circle cx="1027.35" cy="340.69" r="4.9"/>
<circle cx="1083.43" cy="297.75" r="4.9"/>
<circle cx="1139.52" cy="258.6" r="4.9"/>
<circle cx="1167.56" cy="232.07" r="4.9"/>
</g>
<g fill="#27B4B8" stroke="#27B4B8" fill-opacity="0.3" stroke-opacity="0.3" stroke-width="1.89">
<circle cx="578.69" cy="503.62" r="4.9"/>
<circle cx="634.78" cy="493.51" r="4.9"/>
<circle cx="690.86" cy="473.3" r="4.9"/>
<circle cx="746.94" cy="451.83" r="4.9"/>
<circle cx="803.02" cy="420.26" r="4.9"/>
<circle cx="859.1" cy="392.47" r="4.9"/>
<circle cx="915.19" cy="354.58" r="4.9"/>
<circle cx="971.27" cy="329.32" r="4.9"/>
<circle cx="1027.35" cy="276.28" r="4.9"/>
<circle cx="1083.43" cy="223.23" r="4.9"/>
<circle cx="1139.52" cy="187.87" r="4.9"/>
<circle cx="1167.56" cy="170.19" r="4.9"/>
</g>
<g fill="#27B4B8" stroke="#27B4B8" fill-opacity="0.3" stroke-opacity="0.3" stroke-width="1.89">
<circle cx="578.69" cy="506.14" r="4.9"/>
<circle cx="634.78" cy="492.25" r="4.9"/>
<circle cx="690.86" cy="475.83" r="4.9"/>
<circle cx="746.94" cy="458.15" r="4.9"/>
<circle cx="803.02" cy="434.15" r="4.9"/>
<circle cx="859.1" cy="415.21" r="4.9"/>
<circle cx="915.19" cy="382.37" r="4.9"/>
<circle cx="971.27" cy="373.53" r="4.9"/>
<circle cx="1027.35" cy="364.69" r="4.9"/>
<circle cx="1083.43" cy="371" r="4.9"/>
<circle cx="1139.52" cy="358.37" r="4.9"/>
<circle cx="1167.56" cy="369.74" r="4.9"/>
</g>
<g fill="#27B4B8" stroke="#27B4B8" fill-opacity="0.3" stroke-opacity="0.3" stroke-width="1.89">
<circle cx="578.69" cy="503.62" r="4.9"/>
<circle cx="634.78" cy="493.51" r="4.9"/>
<circle cx="690.86" cy="475.83" r="4.9"/>
<circle cx="746.94" cy="448.04" r="4.9"/>
<circle cx="803.02" cy="420.26" r="4.9"/>
<circle cx="859.1" cy="386.16" r="4.9"/>
<circle cx="915.19" cy="348.27" r="4.9"/>
<circle cx="971.27" cy="320.48" r="4.9"/>
<circle cx="1027.35" cy="258.6" r="4.9"/>
<circle cx="1083.43" cy="184.08" r="4.9"/>
<circle cx="1139.52" cy="142.4" r="4.9"/>
<circle cx="1167.56" cy="124.72" r="4.9"/>
</g>
<g fill="#27B4B8" stroke="#27B4B8" fill-opacity="0.3" stroke-opacity="0.3" stroke-width="1.89">
<circle cx="578.69" cy="503.62" r="4.9"/>
<circle cx="634.78" cy="488.46" r="4.9"/>
<circle cx="690.86" cy="474.57" r="4.9"/>
<circle cx="746.94" cy="445.52" r="4.9"/>
<circle cx="803.02" cy="400.05" r="4.9"/>
<circle cx="859.1" cy="355.85" r="4.9"/>
<circle cx="915.19" cy="301.54" r="4.9"/>
<circle cx="971.27" cy="254.81" r="4.9"/>
<circle cx="1027.35" cy="192.92" r="4.9"/>
<circle cx="1083.43" cy="136.08" r="4.9"/>
<circle cx="1139.52" cy="99.46" r="4.9"/>
<circle cx="1167.56" cy="84.3" r="4.9"/>
</g>
<g fill="#27B4B8" stroke="#27B4B8" fill-opacity="0.3" stroke-opacity="0.3" stroke-width="1.89">
<circle cx="578.69" cy="506.14" r="4.9"/>
<circle cx="634.78" cy="494.78" r="4.9"/>
<circle cx="690.86" cy="478.36" r="4.9"/>
<circle cx="746.94" cy="459.41" r="4.9"/>
<circle cx="803.02" cy="431.63" r="4.9"/>
<circle cx="859.1" cy="408.89" r="4.9"/>
<circle cx="915.19" cy="372.26" r="4.9"/>
<circle cx="971.27" cy="345.74" r="4.9"/>
<circle cx="1027.35" cy="305.33" r="4.9"/>
<circle cx="1083.43" cy="268.7" r="4.9"/>
<circle cx="1139.52" cy="271.23" r="4.9"/>
<circle cx="1167.56" cy="277.54" r="4.9"/>
</g>
<g fill="#27B4B8" stroke="#27B4B8" fill-opacity="0.3" stroke-opacity="0.3" stroke-width="1.89">
<circle cx="578.69" cy="503.62" r="4.9"/>
<circle cx="634.78" cy="494.78" r="4.9"/>
<circle cx="690.86" cy="484.67" r="4.9"/>
<circle cx="746.94" cy="469.52" r="4.9"/>
<circle cx="803.02" cy="454.36" r="4.9"/>
<circle cx="859.1" cy="450.57" r="4.9"/>
<circle cx="915.19" cy="425.31" r="4.9"/>
<circle cx="971.27" cy="413.94" r="4.9"/>
<circle cx="1027.35" cy="384.89" r="4.9"/>
<circle cx="1083.43" cy="357.11" r="4.9"/>
<circle cx="1139.52" cy="341.95" r="4.9"/>
<circle cx="1167.56" cy="330.59" r="4.9"/>
</g>
<g fill="#27B4B8" stroke="#27B4B8" fill-opacity="0.3" stroke-opacity="0.3" stroke-width="1.89">
<circle cx="578.69" cy="503.62" r="4.9"/>
<circle cx="634.78" cy="493.51" r="4.9"/>
<circle cx="690.86" cy="478.36" r="4.9"/>
<circle cx="746.94" cy="461.94" r="4.9"/>
<circle cx="803.02" cy="431.63" r="4.9"/>
<circle cx="859.1" cy="417.73" r="4.9"/>
<circle cx="915.19" cy="393.74" r="4.9"/>
<circle cx="971.27" cy="360.9" r="4.9"/>
<circle cx="1027.35" cy="312.9" r="4.9"/>
<circle cx="1083.43" cy="262.38" r="4.9"/>
<circle cx="1139.52" cy="201.76" r="4.9"/>
<circle cx="1167.56" cy="189.13" r="4.9"/>
</g>
<g fill="#27B4B8" stroke="#27B4B8" fill-opacity="0.3" stroke-opacity="0.3" stroke-width="1.89">
<circle cx="578.69" cy="502.35" r="4.9"/>
<circle cx="634.78" cy="492.25" r="4.9"/>
<circle cx="690.86" cy="478.36" r="4.9"/>
<circle cx="746.94" cy="456.89" r="4.9"/>
<circle cx="803.02" cy="442.99" r="4.9"/>
<circle cx="859.1" cy="417.73" r="4.9"/>
<circle cx="915.19" cy="391.21" r="4.9"/>
<circle cx="971.27" cy="371" r="4.9"/>
<circle cx="1027.35" cy="340.69" r="4.9"/>
<circle cx="1083.43" cy="285.12" r="4.9"/>
<circle cx="1139.52" cy="239.65" r="4.9"/>
<circle cx="1167.56" cy="211.86" r="4.9"/>
</g>
<g fill="#27B4B8" stroke="#27B4B8" fill-opacity="0.3" stroke-opacity="0.3" stroke-width="1.89">
<circle cx="578.69" cy="503.62" r="4.9"/>
<circle cx="634.78" cy="485.94" r="4.9"/>
<circle cx="690.86" cy="472.04" r="4.9"/>
<circle cx="746.94" cy="455.62" r="4.9"/>
<circle cx="803.02" cy="427.84" r="4.9"/>
<circle cx="859.1" cy="403.84" r="4.9"/>
<circle cx="915.19" cy="360.9" r="4.9"/>
<circle cx="971.27" cy="325.53" r="4.9"/>
<circle cx="1027.35" cy="283.86" r="4.9"/>
<circle cx="1083.43" cy="224.49" r="4.9"/>
<circle cx="1139.52" cy="182.81" r="4.9"/>
<circle cx="1167.56" cy="149.98" r="4.9"/>
</g>
<g fill="#B562FF" stroke="#B562FF" fill-opacity="0.3" stroke-opacity="0.3" stroke-width="1.89">
<circle cx="578.69" cy="502.35" r="4.9"/>
<circle cx="634.78" cy="490.99" r="4.9"/>
<circle cx="690.86" cy="472.04" r="4.9"/>
<circle cx="746.94" cy="448.04" r="4.9"/>
<circle cx="803.02" cy="425.31" r="4.9"/>
<circle cx="859.1" cy="398.79" r="4.9"/>
<circle cx="915.19" cy="359.63" r="4.9"/>
<circle cx="971.27" cy="362.16" r="4.9"/>
<circle cx="1027.35" cy="334.38" r="4.9"/>
<circle cx="1083.43" cy="323.01" r="4.9"/>
<circle cx="1139.52" cy="304.06" r="4.9"/>
<circle cx="1167.56" cy="297.75" r="4.9"/>
</g>
<g fill="#B562FF" stroke="#B562FF" fill-opacity="0.3" stroke-opacity="0.3" stroke-width="1.89">
<circle cx="578.69" cy="502.35" r="4.9"/>
<circle cx="634.78" cy="493.51" r="4.9"/>
<circle cx="690.86" cy="475.83" r="4.9"/>
<circle cx="746.94" cy="449.31" r="4.9"/>
<circle cx="803.02" cy="425.31" r="4.9"/>
<circle cx="859.1" cy="396.26" r="4.9"/>
<circle cx="915.19" cy="353.32" r="4.9"/>
<circle cx="971.27" cy="335.64" r="4.9"/>
<circle cx="1027.35" cy="297.75" r="4.9"/>
<circle cx="1083.43" cy="259.86" r="4.9"/>
<circle cx="1139.52" cy="215.65" r="4.9"/>
<circle cx="1167.56" cy="200.5" r="4.9"/>
</g>
<g fill="#B562FF" stroke="#B562FF" fill-opacity="0.3" stroke-opacity="0.3" stroke-width="1.89">
<circle cx="578.69" cy="502.35" r="4.9"/>
<circle cx="634.78" cy="485.94" r="4.9"/>
<circle cx="690.86" cy="468.25" r="4.9"/>
<circle cx="746.94" cy="434.15" r="4.9"/>
<circle cx="803.02" cy="389.95" r="4.9"/>
<circle cx="859.1" cy="357.11" r="4.9"/>
<circle cx="915.19" cy="323.01" r="4.9"/>
<circle cx="971.27" cy="317.96" r="4.9"/>
<circle cx="1027.35" cy="306.59" r="4.9"/>
<circle cx="1083.43" cy="305.33" r="4.9"/>
<circle cx="1139.52" cy="304.06" r="4.9"/>
<circle cx="1167.56" cy="302.8" r="4.9"/>
</g>
<g fill="#B562FF" stroke="#B562FF" fill-opacity="0.3" stroke-opacity="0.3" stroke-width="1.89">
<circle cx="578.69" cy="502.35" r="4.9"/>
<circle cx="634.78" cy="490.99" r="4.9"/>
<circle cx="690.86" cy="473.3" r="4.9"/>
<circle cx="746.94" cy="446.78" r="4.9"/>
<circle cx="803.02" cy="425.31" r="4.9"/>
<circle cx="859.1" cy="406.37" r="4.9"/>
<circle cx="915.19" cy="395" r="4.9"/>
<circle cx="971.27" cy="381.11" r="4.9"/>
<circle cx="1027.35" cy="372.26" r="4.9"/>
<circle cx="1083.43" cy="371" r="4.9"/>
</g>
<g fill="#B562FF" stroke="#B562FF" fill-opacity="0.3" stroke-opacity="0.3" stroke-width="1.89">
<circle cx="578.69" cy="503.62" r="4.9"/>
<circle cx="634.78" cy="492.25" r="4.9"/>
<circle cx="690.86" cy="478.36" r="4.9"/>
<circle cx="746.94" cy="456.89" r="4.9"/>
<circle cx="803.02" cy="431.63" r="4.9"/>
<circle cx="859.1" cy="407.63" r="4.9"/>
<circle cx="915.19" cy="384.89" r="4.9"/>
<circle cx="971.27" cy="377.32" r="4.9"/>
<circle cx="1027.35" cy="369.74" r="4.9"/>
<circle cx="1083.43" cy="335.64" r="4.9"/>
<circle cx="1139.52" cy="306.59" r="4.9"/>
<circle cx="1167.56" cy="307.85" r="4.9"/>
</g>
<g fill="#B562FF" stroke="#B562FF" fill-opacity="0.3" stroke-opacity="0.3" stroke-width="1.89">
<circle cx="578.69" cy="504.88" r="4.9"/>
<circle cx="634.78" cy="489.72" r="4.9"/>
<circle cx="690.86" cy="477.09" r="4.9"/>
<circle cx="746.94" cy="451.83" r="4.9"/>
<circle cx="803.02" cy="427.84" r="4.9"/>
<circle cx="859.1" cy="403.84" r="4.9"/>
<circle cx="915.19" cy="373.53" r="4.9"/>
<circle cx="971.27" cy="358.37" r="4.9"/>
<circle cx="1027.35" cy="336.9" r="4.9"/>
<circle cx="1083.43" cy="290.17" r="4.9"/>
<circle cx="1139.52" cy="263.65" r="4.9"/>
<circle cx="1167.56" cy="254.81" r="4.9"/>
</g>
<g fill="#B562FF" stroke="#B562FF" fill-opacity="0.3" stroke-opacity="0.3" stroke-width="1.89">
<circle cx="578.69" cy="503.62" r="4.9"/>
<circle cx="634.78" cy="488.46" r="4.9"/>
<circle cx="690.86" cy="472.04" r="4.9"/>
<circle cx="746.94" cy="455.62" r="4.9"/>
<circle cx="803.02" cy="429.1" r="4.9"/>
<circle cx="859.1" cy="400.05" r="4.9"/>
<circle cx="915.19" cy="368.48" r="4.9"/>
<circle cx="971.27" cy="357.11" r="4.9"/>
<circle cx="1027.35" cy="343.22" r="4.9"/>
<circle cx="1083.43" cy="321.75" r="4.9"/>
<circle cx="1139.52" cy="290.17" r="4.9"/>
<circle cx="1167.56" cy="296.49" r="4.9"/>
</g>
<g fill="#B562FF" stroke="#B562FF" fill-opacity="0.3" stroke-opacity="0.3" stroke-width="1.89">
<circle cx="578.69" cy="506.14" r="4.9"/>
<circle cx="634.78" cy="492.25" r="4.9"/>
<circle cx="690.86" cy="477.09" r="4.9"/>
<circle cx="746.94" cy="454.36" r="4.9"/>
<circle cx="803.02" cy="424.05" r="4.9"/>
<circle cx="859.1" cy="397.52" r="4.9"/>
<circle cx="915.19" cy="360.9" r="4.9"/>
<circle cx="971.27" cy="340.69" r="4.9"/>
<circle cx="1027.35" cy="275.01" r="4.9"/>
<circle cx="1083.43" cy="225.76" r="4.9"/>
<circle cx="1139.52" cy="172.71" r="4.9"/>
<circle cx="1167.56" cy="148.71" r="4.9"/>
</g>
<g fill="#B562FF" stroke="#B562FF" fill-opacity="0.3" stroke-opacity="0.3" stroke-width="1.89">
<circle cx="578.69" cy="504.88" r="4.9"/>
<circle cx="634.78" cy="488.46" r="4.9"/>
<circle cx="690.86" cy="474.57" r="4.9"/>
<circle cx="746.94" cy="448.04" r="4.9"/>
<circle cx="803.02" cy="419" r="4.9"/>
<circle cx="859.1" cy="393.74" r="4.9"/>
<circle cx="915.19" cy="363.42" r="4.9"/>
<circle cx="971.27" cy="345.74" r="4.9"/>
<circle cx="1027.35" cy="323.01" r="4.9"/>
<circle cx="1083.43" cy="299.01" r="4.9"/>
<circle cx="1139.52" cy="261.12" r="4.9"/>
<circle cx="1167.56" cy="256.07" r="4.9"/>
</g>
<g fill="#B562FF" stroke="#B562FF" fill-opacity="0.3" stroke-opacity="0.3" stroke-width="1.89">
<circle cx="578.69" cy="503.62" r="4.9"/>
<circle cx="634.78" cy="487.2" r="4.9"/>
<circle cx="690.86" cy="470.78" r="4.9"/>
<circle cx="746.94" cy="449.31" r="4.9"/>
<circle cx="803.02" cy="422.78" r="4.9"/>
<circle cx="859.1" cy="401.31" r="4.9"/>
<circle cx="915.19" cy="359.63" r="4.9"/>
<circle cx="971.27" cy="334.38" r="4.9"/>
<circle cx="1027.35" cy="296.49" r="4.9"/>
<circle cx="1083.43" cy="259.86" r="4.9"/>
<circle cx="1139.52" cy="221.97" r="4.9"/>
<circle cx="1167.56" cy="221.97" r="4.9"/>
</g>
<polygon points="578.69,487.76 586.15,487.97 593.6,488.01 601.06,487.89 608.51,487.59 615.96,487.12 623.42,486.48 630.87,485.66 638.32,484.68 645.78,483.55 653.23,482.28 660.69,480.89 668.14,479.4 675.59,477.82 683.05,476.17 690.5,474.46 697.96,472.7 705.41,470.9 712.86,469.07 720.32,467.21 727.77,465.33 735.23,463.42 742.68,461.5 750.13,459.54 757.59,457.55 765.04,455.5 772.5,453.39 779.95,451.18 787.4,448.84 794.86,446.43 802.31,444.11 809.77,442 817.22,440.02 824.67,438.02 832.13,435.89 839.58,433.42 847.04,430.85 854.49,428.26 861.94,425.85 869.4,423.6 876.85,421.29 884.31,418.87 891.76,416.35 899.21,413.77 906.67,411.04 914.12,408.18 921.58,405.28 929.03,402.43 936.48,399.66 943.94,396.86 951.39,394.05 958.85,391.24 966.3,388.47 973.75,385.73 981.21,383.02 988.66,380.34 996.12,377.71 1003.57,375.1 1011.02,372.53 1018.48,369.98 1025.93,367.47 1033.39,364.97 1040.84,362.5 1048.29,360.04 1055.75,357.59 1063.2,355.14 1070.66,352.68 1078.11,350.19 1085.56,347.67 1093.02,345.1 1100.47,342.47 1107.93,339.76 1115.38,336.97 1122.83,334.08 1130.29,331.09 1137.74,328 1145.19,324.8 1152.65,321.51 1160.1,318.12 1167.56,314.64 1167.56,345.18 1160.1,346.4 1152.65,347.76 1145.19,349.25 1137.74,350.88 1130.29,352.65 1122.83,354.55 1115.38,356.59 1107.93,358.76 1100.47,361.04 1093.02,363.43 1085.56,365.91 1078.11,368.46 1070.66,371.08 1063.2,373.74 1055.75,376.44 1048.29,379.15 1040.84,381.89 1033.39,384.62 1025.93,387.36 1018.48,390.1 1011.02,392.83 1003.57,395.55 996.12,398.26 988.66,400.98 981.21,403.7 973.75,406.43 966.3,409.19 958.85,412.01 951.39,414.92 943.94,417.98 936.48,421.17 929.03,424.36 921.58,426.93 914.12,429.41 906.67,431.88 899.21,434.49 891.76,437.35 884.31,440.06 876.85,442.79 869.4,445.52 861.94,448.11 854.49,450.46 847.04,452.63 839.58,454.75 832.13,456.92 824.67,459.25 817.22,461.63 809.77,464.04 802.31,466.35 794.86,468.4 787.4,470.36 779.95,472.31 772.5,474.3 765.04,476.29 757.59,478.25 750.13,480.18 742.68,482.05 735.23,483.87 727.77,485.63 720.32,487.33 712.86,488.97 705.41,490.56 697.96,492.1 690.5,493.6 683.05,495.06 675.59,496.51 668.14,497.95 660.69,499.39 653.23,500.86 645.78,502.37 638.32,503.94 630.87,505.58 623.42,507.29 615.96,509.1 608.51,511 601.06,512.99 593.6,515.07 586.15,517.24 578.69,519.49" fill="#878787" fill-opacity="0.2"/>
<polyline points="578.69,503.63 586.15,502.61 593.6,501.54 601.06,500.44 608.51,499.3 615.96,498.11 623.42,496.88 630.87,495.62 638.32,494.31 645.78,492.96 653.23,491.57 660.69,490.14 668.14,488.67 675.59,487.17 683.05,485.62 690.5,484.03 697.96,482.4 705.41,480.73 712.86,479.02 720.32,477.27 727.77,475.48 735.23,473.65 742.68,471.77 750.13,469.86 757.59,467.9 765.04,465.9 772.5,463.85 779.95,461.75 787.4,459.6 794.86,457.42 802.31,455.23 809.77,453.02 817.22,450.83 824.67,448.63 832.13,446.4 839.58,444.09 847.04,441.74 854.49,439.36 861.94,436.98 869.4,434.56 876.85,432.04 884.31,429.46 891.76,426.85 899.21,424.13 906.67,421.46 914.12,418.8 921.58,416.1 929.03,413.4 936.48,410.42 943.94,407.42 951.39,404.48 958.85,401.63 966.3,398.83 973.75,396.08 981.21,393.36 988.66,390.66 996.12,387.98 1003.57,385.32 1011.02,382.68 1018.48,380.04 1025.93,377.41 1033.39,374.8 1040.84,372.19 1048.29,369.6 1055.75,367.01 1063.2,364.44 1070.66,361.88 1078.11,359.33 1085.56,356.79 1093.02,354.26 1100.47,351.75 1107.93,349.26 1115.38,346.78 1122.83,344.32 1130.29,341.87 1137.74,339.44 1145.19,337.03 1152.65,334.64 1160.1,332.26 1167.56,329.91" fill="none" stroke="#EF5D59" stroke-width="5.69" stroke-linejoin="round"/>
<polygon points="578.69,475.99 586.15,476.8 593.6,477.33 601.06,477.59 608.51,477.57 615.96,477.26 623.42,476.67 630.87,475.8 638.32,474.67 645.78,473.28 653.23,471.67 660.69,469.86 668.14,467.88 675.59,465.76 683.05,463.53 690.5,461.21 697.96,458.82 705.41,456.38 712.86,453.9 720.32,451.39 727.77,448.85 735.23,446.3 742.68,443.72 750.13,441.11 757.59,438.46 765.04,435.73 772.5,432.9 779.95,429.89 787.4,426.67 794.86,423.32 802.31,420.11 809.77,417.22 817.22,414.57 824.67,411.95 832.13,409.18 839.58,405.86 847.04,402.38 854.49,398.96 861.94,395.95 869.4,393.43 876.85,391.06 884.31,388.55 891.76,385.56 899.21,382.24 906.67,378.83 914.12,375.57 921.58,372.79 929.03,370.17 936.48,366.89 943.94,363.43 951.39,359.95 958.85,356.84 966.3,354.14 973.75,351.23 981.21,348.12 988.66,344.91 996.12,341.67 1003.57,338.44 1011.02,335.23 1018.48,332.05 1025.93,328.91 1033.39,325.81 1040.84,322.74 1048.29,319.71 1055.75,316.69 1063.2,313.68 1070.66,310.65 1078.11,307.6 1085.56,304.49 1093.02,301.28 1100.47,297.94 1107.93,294.44 1115.38,290.73 1122.83,286.77 1130.29,282.55 1137.74,278.03 1145.19,273.22 1152.65,268.12 1160.1,262.72 1167.56,257.05 1167.56,308.72 1160.1,310.04 1152.65,311.63 1145.19,313.48 1137.74,315.62 1130.29,318.02 1122.83,320.7 1115.38,323.63 1107.93,326.78 1100.47,330.11 1093.02,333.58 1085.56,337.16 1078.11,340.8 1070.66,344.47 1063.2,348.15 1055.75,351.81 1048.29,355.43 1040.84,359.01 1033.39,362.54 1025.93,366.02 1018.48,369.44 1011.02,372.81 1003.57,376.14 996.12,379.45 988.66,382.76 981.21,386.13 973.75,389.62 966.3,393.33 958.85,397.14 951.39,400.19 943.94,402.8 936.48,405.44 929.03,408.27 921.58,411.66 914.12,414.75 906.67,417.51 899.21,420.11 891.76,422.79 884.31,425.66 876.85,428.75 869.4,431.93 861.94,435.05 854.49,437.96 847.04,440.68 839.58,443.39 832.13,446.19 824.67,449.3 817.22,452.63 809.77,456.06 802.31,459.31 794.86,462.03 787.4,464.58 779.95,467.14 772.5,469.75 765.04,472.36 757.59,474.95 750.13,477.49 742.68,479.95 735.23,482.34 727.77,484.64 720.32,486.86 712.86,489 705.41,491.07 697.96,493.08 690.5,495.04 683.05,496.97 675.59,498.89 668.14,500.82 660.69,502.79 653.23,504.82 645.78,506.96 638.32,509.21 630.87,511.61 623.42,514.17 615.96,516.91 608.51,519.82 601.06,522.92 593.6,526.19 586.15,529.62 578.69,533.22" fill="#878787" fill-opacity="0.2"/>
<polyline points="578.69,504.61 586.15,503.21 593.6,501.76 601.06,500.25 608.51,498.7 615.96,497.09 623.42,495.42 630.87,493.71 638.32,491.94 645.78,490.12 653.23,488.25 660.69,486.32 668.14,484.35 675.59,482.33 683.05,480.25 690.5,478.13 697.96,475.95 705.41,473.72 712.86,471.45 720.32,469.12 727.77,466.75 735.23,464.32 742.68,461.84 750.13,459.3 757.59,456.71 765.04,454.05 772.5,451.32 779.95,448.52 787.4,445.63 794.86,442.67 802.31,439.71 809.77,436.64 817.22,433.6 824.67,430.62 832.13,427.68 839.58,424.63 847.04,421.53 854.49,418.46 861.94,415.5 869.4,412.68 876.85,409.91 884.31,407.11 891.76,404.18 899.21,401.18 906.67,398.17 914.12,395.16 921.58,392.23 929.03,389.22 936.48,386.17 943.94,383.12 951.39,380.07 958.85,376.99 966.3,373.73 973.75,370.43 981.21,367.12 988.66,363.84 996.12,360.56 1003.57,357.29 1011.02,354.02 1018.48,350.75 1025.93,347.47 1033.39,344.18 1040.84,340.88 1048.29,337.57 1055.75,334.25 1063.2,330.91 1070.66,327.56 1078.11,324.2 1085.56,320.82 1093.02,317.43 1100.47,314.03 1107.93,310.61 1115.38,307.18 1122.83,303.74 1130.29,300.29 1137.74,296.82 1145.19,293.35 1152.65,289.87 1160.1,286.38 1167.56,282.89" fill="none" stroke="#6EA100" stroke-width="5.69" stroke-linejoin="round"/>
<polygon points="578.69,478.71 586.15,479.27 593.6,479.57 601.06,479.61 608.51,479.37 615.96,478.87 623.42,478.09 630.87,477.04 638.32,475.73 645.78,474.18 653.23,472.41 660.69,470.44 668.14,468.29 675.59,466.01 683.05,463.6 690.5,461.09 697.96,458.49 705.41,455.83 712.86,453.11 720.32,450.35 727.77,447.54 735.23,444.69 742.68,441.81 750.13,438.87 757.59,435.88 765.04,432.8 772.5,429.62 779.95,426.27 787.4,422.72 794.86,419.03 802.31,415.42 809.77,412.1 817.22,408.97 824.67,405.84 832.13,402.5 839.58,398.62 847.04,394.58 854.49,390.54 861.94,386.81 869.4,383.48 876.85,380.24 884.31,376.82 891.76,372.92 899.21,368.71 906.67,364.4 914.12,360.17 921.58,356.2 929.03,352.19 936.48,347.74 943.94,343.08 951.39,338.31 958.85,333.68 966.3,329.11 973.75,324.3 981.21,319.39 988.66,314.45 996.12,309.52 1003.57,304.62 1011.02,299.76 1018.48,294.93 1025.93,290.14 1033.39,285.38 1040.84,280.64 1048.29,275.93 1055.75,271.23 1063.2,266.52 1070.66,261.8 1078.11,257.05 1085.56,252.24 1093.02,247.34 1100.47,242.32 1107.93,237.15 1115.38,231.8 1122.83,226.23 1130.29,220.41 1137.74,214.34 1145.19,208.01 1152.65,201.43 1160.1,194.59 1167.56,187.51 1167.56,233.28 1160.1,236.51 1152.65,239.97 1145.19,243.68 1137.74,247.63 1130.29,251.84 1122.83,256.28 1115.38,260.94 1107.93,265.8 1100.47,270.81 1093.02,275.95 1085.56,281.18 1078.11,286.46 1070.66,291.76 1063.2,297.06 1055.75,302.33 1048.29,307.57 1040.84,312.77 1033.39,317.91 1025.93,323.01 1018.48,328.05 1011.02,333.05 1003.57,338.02 996.12,342.99 988.66,347.98 981.21,353.06 973.75,358.31 966.3,363.82 958.85,369.38 951.39,373.95 943.94,377.96 936.48,381.89 929.03,385.94 921.58,390.63 914.12,394.87 906.67,398.66 899.21,402.26 891.76,405.9 884.31,409.69 876.85,413.64 869.4,417.58 861.94,421.44 854.49,425.09 847.04,428.51 839.58,431.87 832.13,435.28 824.67,438.93 817.22,442.69 809.77,446.5 802.31,450.14 794.86,453.32 787.4,456.31 779.95,459.27 772.5,462.26 765.04,465.25 757.59,468.21 750.13,471.09 742.68,473.9 735.23,476.62 727.77,479.24 720.32,481.77 712.86,484.21 705.41,486.56 697.96,488.84 690.5,491.06 683.05,493.22 675.59,495.35 668.14,497.47 660.69,499.61 653.23,501.77 645.78,504.01 638.32,506.33 630.87,508.75 623.42,511.3 615.96,513.98 608.51,516.8 601.06,519.76 593.6,522.85 586.15,526.06 578.69,529.4" fill="#878787" fill-opacity="0.2"/>
<polyline points="578.69,504.06 586.15,502.67 593.6,501.21 601.06,499.68 608.51,498.09 615.96,496.42 623.42,494.69 630.87,492.89 638.32,491.03 645.78,489.09 653.23,487.09 660.69,485.02 668.14,482.88 675.59,480.68 683.05,478.41 690.5,476.07 697.96,473.67 705.41,471.2 712.86,468.66 720.32,466.06 727.77,463.39 735.23,460.66 742.68,457.85 750.13,454.98 757.59,452.04 765.04,449.03 772.5,445.94 779.95,442.77 787.4,439.51 794.86,436.18 802.31,432.78 809.77,429.3 817.22,425.83 824.67,422.38 832.13,418.89 839.58,415.25 847.04,411.54 854.49,407.81 861.94,404.13 869.4,400.53 876.85,396.94 884.31,393.26 891.76,389.41 899.21,385.49 906.67,381.53 914.12,377.52 921.58,373.41 929.03,369.07 936.48,364.81 943.94,360.52 951.39,356.13 958.85,351.53 966.3,346.47 973.75,341.31 981.21,336.22 988.66,331.21 996.12,326.25 1003.57,321.32 1011.02,316.41 1018.48,311.49 1025.93,306.57 1033.39,301.65 1040.84,296.71 1048.29,291.75 1055.75,286.78 1063.2,281.79 1070.66,276.78 1078.11,271.75 1085.56,266.71 1093.02,261.65 1100.47,256.57 1107.93,251.48 1115.38,246.37 1122.83,241.25 1130.29,236.12 1137.74,230.99 1145.19,225.85 1152.65,220.7 1160.1,215.55 1167.56,210.4" fill="none" stroke="#27B4B8" stroke-width="5.69" stroke-linejoin="round"/>
<polygon points="578.69,490.35 586.15,489.65 593.6,488.77 601.06,487.72 608.51,486.49 615.96,485.07 623.42,483.48 630.87,481.7 638.32,479.76 645.78,477.65 653.23,475.4 660.69,473.01 668.14,470.49 675.59,467.88 683.05,465.17 690.5,462.39 697.96,459.53 705.41,456.62 712.86,453.66 720.32,450.65 727.77,447.59 735.23,444.49 742.68,441.34 750.13,438.13 757.59,434.86 765.04,431.51 772.5,428.04 779.95,424.41 787.4,420.6 794.86,416.67 802.31,412.84 809.77,409.13 817.22,405.53 824.67,402.02 832.13,398.5 839.58,394.63 847.04,390.65 854.49,386.76 861.94,383.23 869.4,380.1 876.85,377.13 884.31,374.13 891.76,370.82 899.21,367.29 906.67,363.77 914.12,360.41 921.58,357.49 929.03,354.88 936.48,351.67 943.94,348.44 951.39,345.24 958.85,342.35 966.3,340 973.75,337.39 981.21,334.47 988.66,331.35 996.12,328.12 1003.57,324.82 1011.02,321.49 1018.48,318.13 1025.93,314.75 1033.39,311.36 1040.84,307.96 1048.29,304.53 1055.75,301.08 1063.2,297.6 1070.66,294.08 1078.11,290.49 1085.56,286.84 1093.02,283.1 1100.47,279.24 1107.93,275.26 1115.38,271.12 1122.83,266.82 1130.29,262.33 1137.74,257.65 1145.19,252.79 1152.65,247.73 1160.1,242.48 1167.56,237.05 1167.56,264.38 1160.1,267.53 1152.65,270.76 1145.19,274.08 1137.74,277.49 1130.29,281 1122.83,284.59 1115.38,288.27 1107.93,292.02 1100.47,295.83 1093.02,299.67 1085.56,303.53 1078.11,307.4 1070.66,311.25 1063.2,315.07 1055.75,318.86 1048.29,322.6 1040.84,326.29 1033.39,329.92 1025.93,333.49 1018.48,337.01 1011.02,340.46 1003.57,343.86 996.12,347.19 988.66,350.47 981.21,353.68 973.75,356.81 966.3,359.83 958.85,362.73 951.39,365.59 943.94,368.34 936.48,371.16 929.03,374.13 921.58,377.1 914.12,380.17 906.67,383.28 899.21,386.4 891.76,389.59 884.31,392.85 876.85,396.14 869.4,399.52 861.94,402.96 854.49,406.43 847.04,409.97 839.58,413.56 832.13,417.17 824.67,420.86 817.22,424.73 809.77,428.72 802.31,432.61 794.86,436.2 787.4,439.72 779.95,443.2 772.5,446.63 765.04,449.98 757.59,453.27 750.13,456.48 742.68,459.61 735.23,462.67 727.77,465.64 720.32,468.54 712.86,471.37 705.41,474.12 697.96,476.82 690.5,479.45 683.05,482.04 675.59,484.59 668.14,487.11 660.69,489.62 653.23,492.12 645.78,494.64 638.32,497.18 630.87,499.76 623.42,502.39 615.96,505.07 608.51,507.8 601.06,510.58 593.6,513.41 586.15,516.29 578.69,519.22" fill="#878787" fill-opacity="0.2"/>
<polyline points="578.69,504.78 586.15,502.97 593.6,501.09 601.06,499.15 608.51,497.14 615.96,495.07 623.42,492.93 630.87,490.73 638.32,488.47 645.78,486.15 653.23,483.76 660.69,481.31 668.14,478.8 675.59,476.23 683.05,473.61 690.5,470.92 697.96,468.18 705.41,465.37 712.86,462.51 720.32,459.59 727.77,456.62 735.23,453.58 742.68,450.47 750.13,447.31 757.59,444.07 765.04,440.75 772.5,437.33 779.95,433.81 787.4,430.16 794.86,426.43 802.31,422.72 809.77,418.92 817.22,415.13 824.67,411.44 832.13,407.83 839.58,404.09 847.04,400.31 854.49,396.59 861.94,393.1 869.4,389.81 876.85,386.63 884.31,383.49 891.76,380.21 899.21,376.85 906.67,373.53 914.12,370.29 921.58,367.29 929.03,364.5 936.48,361.42 943.94,358.39 951.39,355.41 958.85,352.54 966.3,349.92 973.75,347.1 981.21,344.07 988.66,340.91 996.12,337.66 1003.57,334.34 1011.02,330.97 1018.48,327.57 1025.93,324.12 1033.39,320.64 1040.84,317.12 1048.29,313.57 1055.75,309.97 1063.2,306.34 1070.66,302.66 1078.11,298.95 1085.56,295.19 1093.02,291.38 1100.47,287.53 1107.93,283.64 1115.38,279.7 1122.83,275.7 1130.29,271.66 1137.74,267.57 1145.19,263.43 1152.65,259.24 1160.1,255 1167.56,250.71" fill="none" stroke="#B562FF" stroke-width="5.69" stroke-linejoin="round"/>
</g>
<g stroke="#262626" stroke-width="2.85">
<path d="M578.69 555.94v7.33"/>
<path d="M718.9 555.94v7.33"/>
<path d="M859.1 555.94v7.33"/>
<path d="M999.31 555.94v7.33"/>
<path d="M1139.52 555.94v7.33"/>
<path d="M549.25 555.4h-7.33"/>
<path d="M549.25 429.1h-7.33"/>
<path d="M549.25 302.8h-7.33"/>
<path d="M549.25 176.5h-7.33"/>
</g>
<rect x="1241.0" y="238.1" width="45.96" height="183.84" fill="#E6E6E6"/>
<circle cx="1263.98" cy="261.08" r="4.9" fill="#EF5D59" stroke="#EF5D59" fill-opacity="0.3" stroke-opacity="0.3" stroke-width="1.89"/>
<circle cx="1263.98" cy="307.04" r="4.9" fill="#6EA100" stroke="#6EA100" fill-opacity="0.3" stroke-opacity="0.3" stroke-width="1.89"/>
<circle cx="1263.98" cy="353" r="4.9" fill="#27B4B8" stroke="#27B4B8" fill-opacity="0.3" stroke-opacity="0.3" stroke-width="1.89"/>
<circle cx="1263.98" cy="398.96" r="4.9" fill="#B562FF" stroke="#B562FF" fill-opacity="0.3" stroke-opacity="0.3" stroke-width="1.89"/>
<rect x="1241.0" y="238.1" width="45.96" height="183.84" fill="#878787" fill-opacity="0.2"/>
<path d="M1245.6 261.08H1282.36" stroke="#EF5D59" stroke-width="5.69"/>
<path d="M1245.6 307.04H1282.36" stroke="#6EA100" stroke-width="5.69"/>
<path d="M1245.6 353H1282.36" stroke="#27B4B8" stroke-width="5.69"/>
<path d="M1245.6 398.96H1282.36" stroke="#B562FF" stroke-width="5.69"/>
<clipPath id="c3"><rect x="582" y="702.06" width="615" height="173.84"/></clipPath>
<rect x="582" y="702.06" width="615" height="173.84" fill="#E6E6E6"/>
<g clip-path="url(#c3)" stroke="#fff" fill="none">
<path d="M582 845.4H1197" stroke-width="1.42"/>
<path d="M582 800.21H1197" stroke-width="1.42"/>
<path d="M582 755.02H1197" stroke-width="1.42"/>
<path d="M582 709.83H1197" stroke-width="1.42"/>
<path d="M752.11 702.06V875.9" stroke-width="1.42"/>
<path d="M939.1 702.06V875.9" stroke-width="1.42"/>
<path d="M1126.09 702.06V875.9" stroke-width="1.42"/>
<path d="M582 868H1197" stroke-width="2.85"/>
<path d="M582 822.81H1197" stroke-width="2.85"/>
<path d="M582 777.61H1197" stroke-width="2.85"/>
<path d="M582 732.42H1197" stroke-width="2.85"/>
<path d="M658.62 702.06V875.9" stroke-width="2.85"/>
<path d="M845.61 702.06V875.9" stroke-width="2.85"/>
<path d="M1032.6 702.06V875.9" stroke-width="2.85"/>
</g>
<g clip-path="url(#c3)" fill="none" stroke-width="2.85" stroke-linejoin="round">
<polyline points="610,835.91 612.19,834.34 614.38,832.74 616.56,831.11 618.75,829.46 620.94,827.8 623.13,826.11 625.32,824.42 627.51,822.71 629.69,821 631.88,819.29 634.07,817.57 636.26,815.86 638.45,814.16 640.64,812.46 642.82,810.77 645.01,809.1 647.2,807.44 649.39,805.8 651.58,804.19 653.77,802.59 655.95,801.02 658.14,799.48 660.33,797.96 662.52,796.47 664.71,795.01 666.89,793.59 669.08,792.19 671.27,790.82 673.46,789.49 675.65,788.19 677.84,786.92 680.02,785.68 682.21,784.48 684.4,783.3 686.59,782.16 688.78,781.04 690.97,779.96 693.15,778.9 695.34,777.88 697.53,776.88 699.72,775.91 701.91,774.97 704.1,774.06 706.28,773.17 708.47,772.32 710.66,771.48 712.85,770.68 715.04,769.9 717.22,769.15 719.41,768.43 721.6,767.74 723.79,767.08 725.98,766.44 728.17,765.84 730.35,765.26 732.54,764.72 734.73,764.21 736.92,763.73 739.11,763.28 741.3,762.86 743.48,762.48 745.67,762.13 747.86,761.81 750.05,761.52 752.24,761.27 754.43,761.05 756.61,760.86 758.8,760.69 760.99,760.56 763.18,760.46 765.37,760.38 767.55,760.33 769.74,760.29 771.93,760.28 774.12,760.29 776.31,760.32 778.5,760.36 780.68,760.42 782.87,760.48 785.06,760.55 787.25,760.64 789.44,760.72 791.63,760.81 793.81,760.9 796,760.99 798.19,761.08 800.38,761.17 802.57,761.26 804.75,761.34 806.94,761.43 809.13,761.51 811.32,761.59 813.51,761.68 815.7,761.76 817.88,761.85 820.07,761.95 822.26,762.05 824.45,762.17 826.64,762.31 828.83,762.46 831.01,762.63 833.2,762.83 835.39,763.06 837.58,763.33 839.77,763.63 841.96,763.97 844.14,764.36 846.33,764.8 848.52,765.29 850.71,765.83 852.9,766.43 855.08,767.1 857.27,767.82 859.46,768.61 861.65,769.47 863.84,770.39 866.03,771.38 868.21,772.44 870.4,773.56 872.59,774.75 874.78,776 876.97,777.32 879.16,778.69 881.34,780.12 883.53,781.6 885.72,783.13 887.91,784.7 890.1,786.32 892.29,787.97 894.47,789.65 896.66,791.36 898.85,793.08 901.04,794.82 903.23,796.57 905.41,798.32 907.6,800.07 909.79,801.82 911.98,803.55 914.17,805.26 916.36,806.95 918.54,808.62 920.73,810.25 922.92,811.85 925.11,813.41 927.3,814.93 929.49,816.41 931.67,817.84 933.86,819.22 936.05,820.54 938.24,821.82 940.43,823.04 942.62,824.21 944.8,825.33 946.99,826.39 949.18,827.39 951.37,828.35 953.56,829.25 955.74,830.1 957.93,830.89 960.12,831.65 962.31,832.35 964.5,833.01 966.69,833.63 968.87,834.2 971.06,834.74 973.25,835.25 975.44,835.71 977.63,836.15 979.82,836.56 982,836.95 984.19,837.3 986.38,837.64 988.57,837.96 990.76,838.27 992.95,838.55 995.13,838.83 997.32,839.1 999.51,839.36 1001.7,839.61 1003.89,839.86 1006.07,840.11 1008.26,840.36 1010.45,840.61 1012.64,840.86 1014.83,841.12 1017.02,841.38 1019.2,841.65 1021.39,841.93 1023.58,842.22 1025.77,842.52 1027.96,842.83 1030.15,843.16 1032.33,843.5 1034.52,843.85 1036.71,844.21 1038.9,844.59 1041.09,844.99 1043.28,845.4 1045.46,845.82 1047.65,846.26 1049.84,846.71 1052.03,847.17 1054.22,847.65 1056.4,848.14 1058.59,848.64 1060.78,849.15 1062.97,849.67 1065.16,850.2 1067.35,850.73 1069.53,851.28 1071.72,851.83 1073.91,852.38 1076.1,852.93 1078.29,853.49 1080.48,854.04 1082.66,854.6 1084.85,855.15 1087.04,855.7 1089.23,856.24 1091.42,856.78 1093.61,857.31 1095.79,857.83 1097.98,858.34 1100.17,858.84 1102.36,859.32 1104.55,859.8 1106.73,860.26 1108.92,860.71 1111.11,861.15 1113.3,861.57 1115.49,861.97 1117.68,862.36 1119.86,862.73 1122.05,863.09 1124.24,863.43 1126.43,863.75 1128.62,864.06 1130.81,864.35 1132.99,864.63 1135.18,864.89 1137.37,865.13 1139.56,865.37 1141.75,865.58 1143.94,865.79 1146.12,865.98 1148.31,866.15 1150.5,866.32 1152.69,866.47 1154.88,866.61 1157.06,866.74 1159.25,866.86 1161.44,866.97 1163.63,867.07 1165.82,867.17 1168.01,867.25 1169.1,867.29" stroke="#EF5D59"/>
<polyline points="610,844.82 612.19,844.51 614.38,844.2 616.56,843.89 618.75,843.57 620.94,843.26 623.13,842.94 625.32,842.61 627.51,842.28 629.69,841.95 631.88,841.61 634.07,841.26 636.26,840.91 638.45,840.54 640.64,840.17 642.82,839.78 645.01,839.39 647.2,838.98 649.39,838.56 651.58,838.12 653.77,837.67 655.95,837.2 658.14,836.72 660.33,836.22 662.52,835.71 664.71,835.17 666.89,834.62 669.08,834.05 671.27,833.46 673.46,832.85 675.65,832.22 677.84,831.57 680.02,830.9 682.21,830.21 684.4,829.5 686.59,828.77 688.78,828.02 690.97,827.25 693.15,826.46 695.34,825.66 697.53,824.84 699.72,824 701.91,823.14 704.1,822.27 706.28,821.38 708.47,820.48 710.66,819.57 712.85,818.65 715.04,817.72 717.22,816.78 719.41,815.83 721.6,814.88 723.79,813.92 725.98,812.96 728.17,811.99 730.35,811.03 732.54,810.07 734.73,809.11 736.92,808.16 739.11,807.21 741.3,806.27 743.48,805.34 745.67,804.42 747.86,803.52 750.05,802.62 752.24,801.75 754.43,800.89 756.61,800.05 758.8,799.23 760.99,798.43 763.18,797.65 765.37,796.9 767.55,796.17 769.74,795.46 771.93,794.78 774.12,794.13 776.31,793.51 778.5,792.92 780.68,792.35 782.87,791.82 785.06,791.31 787.25,790.83 789.44,790.39 791.63,789.97 793.81,789.59 796,789.23 798.19,788.91 800.38,788.61 802.57,788.35 804.75,788.11 806.94,787.9 809.13,787.72 811.32,787.56 813.51,787.43 815.7,787.33 817.88,787.25 820.07,787.19 822.26,787.16 824.45,787.14 826.64,787.15 828.83,787.18 831.01,787.22 833.2,787.28 835.39,787.36 837.58,787.45 839.77,787.55 841.96,787.67 844.14,787.8 846.33,787.94 848.52,788.09 850.71,788.24 852.9,788.41 855.08,788.58 857.27,788.75 859.46,788.93 861.65,789.11 863.84,789.3 866.03,789.49 868.21,789.68 870.4,789.87 872.59,790.06 874.78,790.26 876.97,790.45 879.16,790.64 881.34,790.83 883.53,791.02 885.72,791.21 887.91,791.4 890.1,791.58 892.29,791.77 894.47,791.95 896.66,792.14 898.85,792.32 901.04,792.5 903.23,792.68 905.41,792.86 907.6,793.05 909.79,793.23 911.98,793.41 914.17,793.59 916.36,793.78 918.54,793.97 920.73,794.16 922.92,794.35 925.11,794.54 927.3,794.74 929.49,794.94 931.67,795.15 933.86,795.36 936.05,795.58 938.24,795.8 940.43,796.02 942.62,796.25 944.8,796.49 946.99,796.73 949.18,796.98 951.37,797.24 953.56,797.5 955.74,797.77 957.93,798.04 960.12,798.33 962.31,798.61 964.5,798.91 966.69,799.21 968.87,799.52 971.06,799.83 973.25,800.15 975.44,800.48 977.63,800.81 979.82,801.15 982,801.5 984.19,801.85 986.38,802.21 988.57,802.57 990.76,802.94 992.95,803.31 995.13,803.69 997.32,804.08 999.51,804.47 1001.7,804.86 1003.89,805.26 1006.07,805.66 1008.26,806.07 1010.45,806.49 1012.64,806.91 1014.83,807.33 1017.02,807.76 1019.2,808.2 1021.39,808.64 1023.58,809.09 1025.77,809.54 1027.96,809.99 1030.15,810.46 1032.33,810.93 1034.52,811.4 1036.71,811.88 1038.9,812.37 1041.09,812.87 1043.28,813.37 1045.46,813.88 1047.65,814.4 1049.84,814.92 1052.03,815.45 1054.22,816 1056.4,816.55 1058.59,817.1 1060.78,817.67 1062.97,818.25 1065.16,818.83 1067.35,819.42 1069.53,820.03 1071.72,820.64 1073.91,821.26 1076.1,821.89 1078.29,822.53 1080.48,823.18 1082.66,823.84 1084.85,824.5 1087.04,825.18 1089.23,825.86 1091.42,826.55 1093.61,827.25 1095.79,827.96 1097.98,828.67 1100.17,829.39 1102.36,830.12 1104.55,830.85 1106.73,831.59 1108.92,832.33 1111.11,833.08 1113.3,833.83 1115.49,834.58 1117.68,835.34 1119.86,836.1 1122.05,836.86 1124.24,837.62 1126.43,838.38 1128.62,839.14 1130.81,839.9 1132.99,840.65 1135.18,841.4 1137.37,842.15 1139.56,842.9 1141.75,843.63 1143.94,844.37 1146.12,845.1 1148.31,845.82 1150.5,846.53 1152.69,847.23 1154.88,847.93 1157.06,848.61 1159.25,849.29 1161.44,849.95 1163.63,850.61 1165.82,851.25 1168.01,851.88 1169.1,852.19" stroke="#6EA100"/>
<polyline points="610,864.75 612.19,864.53 614.38,864.3 616.56,864.06 618.75,863.81 620.94,863.55 623.13,863.28 625.32,862.99 627.51,862.69 629.69,862.38 631.88,862.05 634.07,861.72 636.26,861.36 638.45,861 640.64,860.62 642.82,860.23 645.01,859.82 647.2,859.4 649.39,858.96 651.58,858.51 653.77,858.05 655.95,857.57 658.14,857.08 660.33,856.58 662.52,856.06 664.71,855.53 666.89,854.99 669.08,854.44 671.27,853.87 673.46,853.29 675.65,852.71 677.84,852.11 680.02,851.5 682.21,850.88 684.4,850.25 686.59,849.61 688.78,848.97 690.97,848.31 693.15,847.66 695.34,846.99 697.53,846.32 699.72,845.65 701.91,844.97 704.1,844.3 706.28,843.62 708.47,842.93 710.66,842.25 712.85,841.57 715.04,840.89 717.22,840.21 719.41,839.54 721.6,838.87 723.79,838.2 725.98,837.55 728.17,836.89 730.35,836.25 732.54,835.61 734.73,834.98 736.92,834.36 739.11,833.75 741.3,833.15 743.48,832.56 745.67,831.98 747.86,831.42 750.05,830.87 752.24,830.33 754.43,829.8 756.61,829.29 758.8,828.79 760.99,828.31 763.18,827.84 765.37,827.39 767.55,826.94 769.74,826.52 771.93,826.11 774.12,825.71 776.31,825.32 778.5,824.95 780.68,824.6 782.87,824.25 785.06,823.92 787.25,823.6 789.44,823.29 791.63,823 793.81,822.71 796,822.44 798.19,822.17 800.38,821.91 802.57,821.66 804.75,821.42 806.94,821.19 809.13,820.96 811.32,820.73 813.51,820.51 815.7,820.29 817.88,820.08 820.07,819.86 822.26,819.65 824.45,819.43 826.64,819.22 828.83,819 831.01,818.78 833.2,818.55 835.39,818.32 837.58,818.09 839.77,817.84 841.96,817.6 844.14,817.34 846.33,817.07 848.52,816.8 850.71,816.51 852.9,816.21 855.08,815.9 857.27,815.58 859.46,815.25 861.65,814.9 863.84,814.54 866.03,814.17 868.21,813.78 870.4,813.37 872.59,812.96 874.78,812.52 876.97,812.07 879.16,811.61 881.34,811.12 883.53,810.63 885.72,810.11 887.91,809.58 890.1,809.04 892.29,808.48 894.47,807.9 896.66,807.31 898.85,806.71 901.04,806.09 903.23,805.45 905.41,804.8 907.6,804.14 909.79,803.47 911.98,802.79 914.17,802.09 916.36,801.38 918.54,800.67 920.73,799.94 922.92,799.21 925.11,798.47 927.3,797.72 929.49,796.97 931.67,796.21 933.86,795.45 936.05,794.69 938.24,793.92 940.43,793.15 942.62,792.39 944.8,791.63 946.99,790.86 949.18,790.11 951.37,789.35 953.56,788.61 955.74,787.87 957.93,787.14 960.12,786.41 962.31,785.7 964.5,785 966.69,784.32 968.87,783.64 971.06,782.98 973.25,782.34 975.44,781.71 977.63,781.1 979.82,780.52 982,779.95 984.19,779.4 986.38,778.87 988.57,778.36 990.76,777.88 992.95,777.43 995.13,776.99 997.32,776.59 999.51,776.21 1001.7,775.85 1003.89,775.53 1006.07,775.23 1008.26,774.96 1010.45,774.72 1012.64,774.51 1014.83,774.33 1017.02,774.18 1019.2,774.06 1021.39,773.97 1023.58,773.91 1025.77,773.88 1027.96,773.89 1030.15,773.92 1032.33,773.99 1034.52,774.09 1036.71,774.22 1038.9,774.38 1041.09,774.57 1043.28,774.79 1045.46,775.04 1047.65,775.33 1049.84,775.64 1052.03,775.98 1054.22,776.36 1056.4,776.76 1058.59,777.19 1060.78,777.64 1062.97,778.13 1065.16,778.64 1067.35,779.18 1069.53,779.74 1071.72,780.33 1073.91,780.95 1076.1,781.59 1078.29,782.25 1080.48,782.94 1082.66,783.64 1084.85,784.37 1087.04,785.12 1089.23,785.89 1091.42,786.68 1093.61,787.49 1095.79,788.32 1097.98,789.16 1100.17,790.03 1102.36,790.9 1104.55,791.8 1106.73,792.7 1108.92,793.63 1111.11,794.56 1113.3,795.51 1115.49,796.47 1117.68,797.44 1119.86,798.42 1122.05,799.42 1124.24,800.42 1126.43,801.43 1128.62,802.45 1130.81,803.48 1132.99,804.51 1135.18,805.55 1137.37,806.6 1139.56,807.65 1141.75,808.7 1143.94,809.76 1146.12,810.82 1148.31,811.89 1150.5,812.96 1152.69,814.03 1154.88,815.09 1157.06,816.16 1159.25,817.23 1161.44,818.3 1163.63,819.37 1165.82,820.44 1168.01,821.5 1169.1,822.03" stroke="#27B4B8"/>
<polyline points="610,868 612.19,868 614.38,868 616.56,868 618.75,868 620.94,868 623.13,868 625.32,868 627.51,868 629.69,867.99 631.88,867.99 634.07,867.99 636.26,867.99 638.45,867.99 640.64,867.99 642.82,867.99 645.01,867.98 647.2,867.98 649.39,867.98 651.58,867.97 653.77,867.97 655.95,867.96 658.14,867.96 660.33,867.95 662.52,867.94 664.71,867.92 666.89,867.91 669.08,867.89 671.27,867.87 673.46,867.85 675.65,867.82 677.84,867.79 680.02,867.75 682.21,867.71 684.4,867.66 686.59,867.6 688.78,867.54 690.97,867.46 693.15,867.37 695.34,867.27 697.53,867.16 699.72,867.03 701.91,866.88 704.1,866.71 706.28,866.52 708.47,866.3 710.66,866.06 712.85,865.78 715.04,865.48 717.22,865.13 719.41,864.75 721.6,864.32 723.79,863.84 725.98,863.31 728.17,862.73 730.35,862.09 732.54,861.38 734.73,860.6 736.92,859.74 739.11,858.81 741.3,857.8 743.48,856.69 745.67,855.49 747.86,854.19 750.05,852.79 752.24,851.29 754.43,849.67 756.61,847.94 758.8,846.08 760.99,844.11 763.18,842.01 765.37,839.79 767.55,837.44 769.74,834.96 771.93,832.36 774.12,829.62 776.31,826.76 778.5,823.78 780.68,820.68 782.87,817.46 785.06,814.14 787.25,810.7 789.44,807.18 791.63,803.56 793.81,799.86 796,796.09 798.19,792.26 800.38,788.38 802.57,784.47 804.75,780.53 806.94,776.58 809.13,772.64 811.32,768.71 813.51,764.81 815.7,760.95 817.88,757.16 820.07,753.44 822.26,749.8 824.45,746.27 826.64,742.85 828.83,739.55 831.01,736.4 833.2,733.39 835.39,730.53 837.58,727.85 839.77,725.34 841.96,723.01 844.14,720.87 846.33,718.92 848.52,717.16 850.71,715.6 852.9,714.23 855.08,713.06 857.27,712.09 859.46,711.3 861.65,710.7 863.84,710.28 866.03,710.04 868.21,709.96 870.4,710.05 872.59,710.29 874.78,710.67 876.97,711.19 879.16,711.84 881.34,712.6 883.53,713.47 885.72,714.44 887.91,715.5 890.1,716.63 892.29,717.84 894.47,719.11 896.66,720.43 898.85,721.79 901.04,723.2 903.23,724.63 905.41,726.09 907.6,727.57 909.79,729.07 911.98,730.57 914.17,732.08 916.36,733.59 918.54,735.1 920.73,736.6 922.92,738.11 925.11,739.6 927.3,741.09 929.49,742.57 931.67,744.04 933.86,745.5 936.05,746.95 938.24,748.4 940.43,749.84 942.62,751.27 944.8,752.7 946.99,754.12 949.18,755.54 951.37,756.96 953.56,758.38 955.74,759.8 957.93,761.22 960.12,762.65 962.31,764.07 964.5,765.5 966.69,766.94 968.87,768.38 971.06,769.83 973.25,771.28 975.44,772.73 977.63,774.19 979.82,775.65 982,777.11 984.19,778.58 986.38,780.05 988.57,781.51 990.76,782.97 992.95,784.43 995.13,785.88 997.32,787.32 999.51,788.76 1001.7,790.17 1003.89,791.58 1006.07,792.97 1008.26,794.34 1010.45,795.69 1012.64,797.02 1014.83,798.32 1017.02,799.6 1019.2,800.85 1021.39,802.08 1023.58,803.27 1025.77,804.44 1027.96,805.58 1030.15,806.7 1032.33,807.78 1034.52,808.84 1036.71,809.87 1038.9,810.87 1041.09,811.85 1043.28,812.82 1045.46,813.76 1047.65,814.68 1049.84,815.59 1052.03,816.48 1054.22,817.37 1056.4,818.25 1058.59,819.12 1060.78,819.99 1062.97,820.86 1065.16,821.74 1067.35,822.62 1069.53,823.51 1071.72,824.4 1073.91,825.31 1076.1,826.24 1078.29,827.17 1080.48,828.12 1082.66,829.09 1084.85,830.07 1087.04,831.07 1089.23,832.09 1091.42,833.12 1093.61,834.16 1095.79,835.22 1097.98,836.28 1100.17,837.36 1102.36,838.44 1104.55,839.53 1106.73,840.63 1108.92,841.72 1111.11,842.81 1113.3,843.9 1115.49,844.98 1117.68,846.05 1119.86,847.1 1122.05,848.15 1124.24,849.17 1126.43,850.18 1128.62,851.16 1130.81,852.12 1132.99,853.05 1135.18,853.96 1137.37,854.84 1139.56,855.68 1141.75,856.5 1143.94,857.28 1146.12,858.03 1148.31,858.75 1150.5,859.43 1152.69,860.08 1154.88,860.69 1157.06,861.27 1159.25,861.82 1161.44,862.33 1163.63,862.81 1165.82,863.26 1168.01,863.69 1169.1,863.88" stroke="#B562FF"/>
</g>
<g stroke="#262626" stroke-width="2.85">
<path d="M658.62 875.9v7.33"/>
<path d="M845.61 875.9v7.33"/>
<path d="M1032.6 875.9v7.33"/>
<path d="M582 868h-7.33"/>
<path d="M582 822.81h-7.33"/>
<path d="M582 777.61h-7.33"/>
<path d="M582 732.42h-7.33"/>
</g>
<rect x="1241" y="718.1" width="45.96" height="45.96" fill="#E6E6E6"/>
<rect x="1242.42" y="719.52" width="43.11" height="43.11" fill="none" stroke="#EF5D59" stroke-width="2.85"/>
<rect x="1241" y="764.06" width="45.96" height="45.96" fill="#E6E6E6"/>
<rect x="1242.42" y="765.49" width="43.11" height="43.11" fill="none" stroke="#6EA100" stroke-width="2.85"/>
<rect x="1241" y="810.02" width="45.96" height="45.96" fill="#E6E6E6"/>
<rect x="1242.42" y="811.44" width="43.11" height="43.11" fill="none" stroke="#27B4B8" stroke-width="2.85"/>
<rect x="1241" y="855.98" width="45.96" height="45.96" fill="#E6E6E6"/>
<rect x="1242.42" y="857.4" width="43.11" height="43.11" fill="none" stroke="#B562FF" stroke-width="2.85"/>
<g filter="url(#tx)">
<g fill="#3C3C3C">
<text x="110.33" y="906.3" font-size="23.47" text-anchor="middle">0</text>
<text x="153.57" y="906.3" font-size="23.47" text-anchor="middle">5</text>
<path transform="translate(183.75 906.3) scale(0.011460 -0.011460)" d="M763 0H583V1147Q518 1085 412.5 1023T223 930V1104Q373 1175 485.5 1275T645 1469H763V0Z"/>
<text x="196.8" y="906.3" font-size="23.47">0</text>
<path transform="translate(226.98 906.3) scale(0.011460 -0.011460)" d="M763 0H583V1147Q518 1085 412.5 1023T223 930V1104Q373 1175 485.5 1275T645 1469H763V0Z"/>
<text x="240.04" y="906.3" font-size="23.47">5</text>
<text x="283.27" y="906.3" font-size="23.47" text-anchor="middle">20</text>
<path transform="translate(48.99 705.71) scale(0.011460 -0.011460)" d="M763 0H583V1147Q518 1085 412.5 1023T223 930V1104Q373 1175 485.5 1275T645 1469H763V0Z"/>
<text x="62.04" y="705.71" font-size="23.47">00</text>
<text x="88.15" y="486.81" font-size="23.47" text-anchor="end">200</text>
<text x="88.15" y="267.9" font-size="23.47" text-anchor="end">300</text>
</g>
<text x="101.45" y="39.7" font-size="35.2" fill="#000" clip-path="url(#t1)">Growth curve for individual chicks</text>
<text x="201.12" y="940" font-size="29.33" fill="#000" text-anchor="middle">Time</text>
<text transform="translate(35.7 468.95) rotate(-90)" font-size="29.33" fill="#000" text-anchor="middle">weight</text>
<text x="345.1" y="379.7" font-size="29.33" fill="#000">Diet</text>
<path transform="translate(405.73 429.88) scale(0.011460 -0.011460)" d="M763 0H583V1147Q518 1085 412.5 1023T223 930V1104Q373 1175 485.5 1275T645 1469H763V0Z" fill="#000"/>
<text x="405.73" y="475.84" font-size="23.47" text-anchor="start" fill="#000">2</text>
<text x="405.73" y="521.8" font-size="23.47" text-anchor="start" fill="#000">3</text>
<text x="405.73" y="567.76" font-size="23.47" text-anchor="start" fill="#000">4</text>
<g fill="#3C3C3C">
<text x="578.69" y="586.34" font-size="23.47" text-anchor="middle">0</text>
<text x="718.9" y="586.34" font-size="23.47" text-anchor="middle">5</text>
<path transform="translate(846.05 586.34) scale(0.011460 -0.011460)" d="M763 0H583V1147Q518 1085 412.5 1023T223 930V1104Q373 1175 485.5 1275T645 1469H763V0Z"/>
<text x="859.1" y="586.34" font-size="23.47">0</text>
<path transform="translate(986.26 586.34) scale(0.011460 -0.011460)" d="M763 0H583V1147Q518 1085 412.5 1023T223 930V1104Q373 1175 485.5 1275T645 1469H763V0Z"/>
<text x="999.31" y="586.34" font-size="23.47">5</text>
<text x="1139.52" y="586.34" font-size="23.47" text-anchor="middle">20</text>
<text x="536.15" y="564.5" font-size="23.47" text-anchor="end">0</text>
<path transform="translate(496.99 438.2) scale(0.011460 -0.011460)" d="M763 0H583V1147Q518 1085 412.5 1023T223 930V1104Q373 1175 485.5 1275T645 1469H763V0Z"/>
<text x="510.04" y="438.2" font-size="23.47">00</text>
<text x="536.15" y="311.9" font-size="23.47" text-anchor="end">200</text>
<text x="536.15" y="185.6" font-size="23.47" text-anchor="end">300</text>
</g>
<text x="549.45" y="39.7" font-size="35.2" fill="#000">Fitted growth curve per diet</text>
<text x="873.12" y="619.5" font-size="29.33" fill="#000" text-anchor="middle">Time</text>
<text transform="translate(483.7 308.97) rotate(-90)" font-size="29.33" fill="#000" text-anchor="middle">weight</text>
<text x="1241.0" y="220" font-size="29.33" fill="#000">Diet</text>
<path transform="translate(1301.63 269.88) scale(0.011460 -0.011460)" d="M763 0H583V1147Q518 1085 412.5 1023T223 930V1104Q373 1175 485.5 1275T645 1469H763V0Z" fill="#000"/>
<text x="1301.63" y="315.84" font-size="23.47" text-anchor="start" fill="#000">2</text>
<text x="1301.63" y="361.8" font-size="23.47" text-anchor="start" fill="#000">3</text>
<text x="1301.63" y="407.76" font-size="23.47" text-anchor="start" fill="#000">4</text>
<g fill="#3C3C3C">
<path transform="translate(639.04 906.3) scale(0.011460 -0.011460)" d="M763 0H583V1147Q518 1085 412.5 1023T223 930V1104Q373 1175 485.5 1275T645 1469H763V0Z"/>
<text x="652.09" y="906.3" font-size="23.47">00</text>
<text x="845.61" y="906.3" font-size="23.47" text-anchor="middle">200</text>
<text x="1032.6" y="906.3" font-size="23.47" text-anchor="middle">300</text>
<text x="568.9" y="877.1" font-size="23.47" text-anchor="end">0.0000</text>
<text x="568.9" y="831.91" font-size="23.47" text-anchor="end">0.0025</text>
<text x="568.9" y="786.71" font-size="23.47" text-anchor="end">0.0050</text>
<text x="568.9" y="741.52" font-size="23.47" text-anchor="end">0.0075</text>
</g>
<text x="582.3" y="679.7" font-size="35.2" fill="#000">Final weight, by diet</text>
<text x="889.5" y="940" font-size="29.33" fill="#000" text-anchor="middle">weight</text>
<text transform="translate(483.7 788.98) rotate(-90)" font-size="29.33" fill="#000" text-anchor="middle">density</text>
<text x="1241.0" y="700" font-size="29.33" fill="#000">Diet</text>
<path transform="translate(1301.63 749.88) scale(0.011460 -0.011460)" d="M763 0H583V1147Q518 1085 412.5 1023T223 930V1104Q373 1175 485.5 1275T645 1469H763V0Z" fill="#000"/>
<text x="1301.63" y="795.84" font-size="23.47" text-anchor="start" fill="#000">2</text>
<text x="1301.63" y="841.8" font-size="23.47" text-anchor="start" fill="#000">3</text>
<text x="1301.63" y="887.76" font-size="23.47" text-anchor="start" fill="#000">4</text>
</g>
</g></svg></body></html>
